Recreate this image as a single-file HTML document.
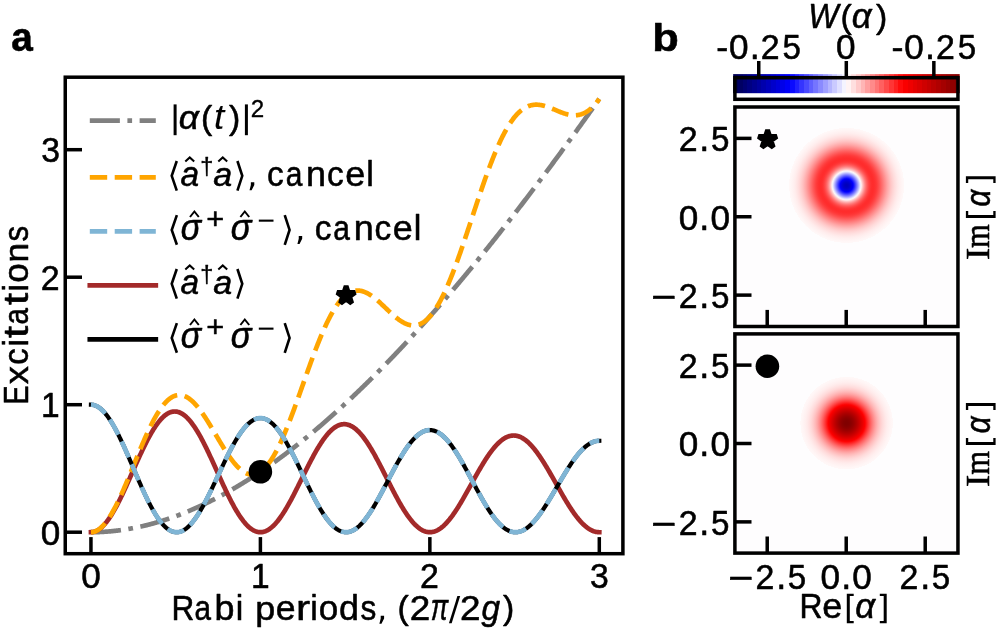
<!DOCTYPE html>
<html><head><meta charset="utf-8"><title>Figure</title><style>html,body{margin:0;padding:0;background:#fff;width:1000px;height:630px;overflow:hidden}svg{display:block}text{font-kerning:none;font-variant-ligatures:none;stroke:#000;stroke-width:0.55px;stroke-linejoin:round}</style></head><body>
<svg width="1000" height="630" viewBox="0 0 1000 630" style="will-change:transform">
<rect x="0" y="0" width="1000" height="630" fill="#fff"/>
<defs><clipPath id="ca"><rect x="65.25" y="77.2" width="557.65" height="476.5"/></clipPath></defs>
<g clip-path="url(#ca)" fill="none" stroke-linejoin="round">
<path d="M90.95 532.20 L91.51 532.20 L92.08 532.20 L92.64 532.19 L93.21 532.19 L93.77 532.18 L94.34 532.17 L94.90 532.16 L95.47 532.15 L96.03 532.14 L96.60 532.13 L97.16 532.11 L97.73 532.09 L98.29 532.07 L98.86 532.05 L99.42 532.03 L99.99 532.01 L100.55 531.98 L101.12 531.96 L101.68 531.93 L102.25 531.90 L102.81 531.87 L103.38 531.84 L103.94 531.81 L104.51 531.77 L105.07 531.73 L105.64 531.70 L106.20 531.66 L106.77 531.62 L107.33 531.57 L107.90 531.53 L108.46 531.49 L109.02 531.44 L109.59 531.39 L110.15 531.34 L110.72 531.29 L111.28 531.24 L111.85 531.19 L112.41 531.13 L112.98 531.07 L113.54 531.02 L114.11 530.96 L114.67 530.89 L115.24 530.83 L115.80 530.77 L116.37 530.70 L116.93 530.64 L117.50 530.57 L118.06 530.50 L118.63 530.43 L119.19 530.36 L119.76 530.28 L120.32 530.21 L120.89 530.13 L121.45 530.05 L122.02 529.97 L122.58 529.89 L123.15 529.81 L123.71 529.73 L124.28 529.64 L124.84 529.55 L125.40 529.47 L125.97 529.38 L126.53 529.29 L127.10 529.19 L127.66 529.10 L128.23 529.01 L128.79 528.91 L129.36 528.81 L129.92 528.71 L130.49 528.61 L131.05 528.51 L131.62 528.41 L132.18 528.30 L132.75 528.20 L133.31 528.09 L133.88 527.98 L134.44 527.87 L135.01 527.76 L135.57 527.65 L136.14 527.53 L136.70 527.42 L137.27 527.30 L137.83 527.18 L138.40 527.06 L138.96 526.94 L139.53 526.82 L140.09 526.69 L140.66 526.57 L141.22 526.44 L141.78 526.32 L142.35 526.19 L142.91 526.06 L143.48 525.92 L144.04 525.79 L144.61 525.66 L145.17 525.52 L145.74 525.38 L146.30 525.24 L146.87 525.10 L147.43 524.96 L148.00 524.82 L148.56 524.68 L149.13 524.53 L149.69 524.38 L150.26 524.24 L150.82 524.09 L151.39 523.94 L151.95 523.78 L152.52 523.63 L153.08 523.48 L153.65 523.32 L154.21 523.16 L154.78 523.00 L155.34 522.84 L155.91 522.68 L156.47 522.52 L157.04 522.36 L157.60 522.19 L158.17 522.02 L158.73 521.86 L159.29 521.69 L159.86 521.52 L160.42 521.34 L160.99 521.17 L161.55 521.00 L162.12 520.82 L162.68 520.64 L163.25 520.47 L163.81 520.29 L164.38 520.11 L164.94 519.92 L165.51 519.74 L166.07 519.56 L166.64 519.37 L167.20 519.18 L167.77 518.99 L168.33 518.80 L168.90 518.61 L169.46 518.42 L170.03 518.23 L170.59 518.03 L171.16 517.84 L171.72 517.64 L172.29 517.44 L172.85 517.24 L173.42 517.04 L173.98 516.83 L174.55 516.63 L175.11 516.43 L175.68 516.22 L176.24 516.01 L176.80 515.80 L177.37 515.59 L177.93 515.38 L178.50 515.17 L179.06 514.95 L179.63 514.74 L180.19 514.52 L180.76 514.31 L181.32 514.09 L181.89 513.87 L182.45 513.64 L183.02 513.42 L183.58 513.20 L184.15 512.97 L184.71 512.75 L185.28 512.52 L185.84 512.29 L186.41 512.06 L186.97 511.83 L187.54 511.60 L188.10 511.36 L188.67 511.13 L189.23 510.89 L189.80 510.65 L190.36 510.41 L190.93 510.17 L191.49 509.93 L192.06 509.69 L192.62 509.45 L193.18 509.20 L193.75 508.96 L194.31 508.71 L194.88 508.46 L195.44 508.21 L196.01 507.96 L196.57 507.71 L197.14 507.45 L197.70 507.20 L198.27 506.94 L198.83 506.69 L199.40 506.43 L199.96 506.17 L200.53 505.91 L201.09 505.65 L201.66 505.39 L202.22 505.12 L202.79 504.86 L203.35 504.59 L203.92 504.32 L204.48 504.05 L205.05 503.78 L205.61 503.51 L206.18 503.24 L206.74 502.97 L207.31 502.69 L207.87 502.42 L208.44 502.14 L209.00 501.86 L209.56 501.58 L210.13 501.30 L210.69 501.02 L211.26 500.73 L211.82 500.45 L212.39 500.17 L212.95 499.88 L213.52 499.59 L214.08 499.30 L214.65 499.01 L215.21 498.72 L215.78 498.43 L216.34 498.14 L216.91 497.84 L217.47 497.55 L218.04 497.25 L218.60 496.95 L219.17 496.65 L219.73 496.35 L220.30 496.05 L220.86 495.75 L221.43 495.44 L221.99 495.14 L222.56 494.83 L223.12 494.52 L223.69 494.22 L224.25 493.91 L224.82 493.60 L225.38 493.28 L225.95 492.97 L226.51 492.66 L227.07 492.34 L227.64 492.03 L228.20 491.71 L228.77 491.39 L229.33 491.07 L229.90 490.75 L230.46 490.43 L231.03 490.11 L231.59 489.78 L232.16 489.46 L232.72 489.13 L233.29 488.80 L233.85 488.47 L234.42 488.14 L234.98 487.81 L235.55 487.48 L236.11 487.15 L236.68 486.81 L237.24 486.48 L237.81 486.14 L238.37 485.80 L238.94 485.47 L239.50 485.13 L240.07 484.79 L240.63 484.44 L241.20 484.10 L241.76 483.76 L242.33 483.41 L242.89 483.07 L243.45 482.72 L244.02 482.37 L244.58 482.02 L245.15 481.67 L245.71 481.32 L246.28 480.97 L246.84 480.61 L247.41 480.26 L247.97 479.90 L248.54 479.54 L249.10 479.19 L249.67 478.83 L250.23 478.47 L250.80 478.11 L251.36 477.74 L251.93 477.38 L252.49 477.02 L253.06 476.65 L253.62 476.28 L254.19 475.92 L254.75 475.55 L255.32 475.18 L255.88 474.81 L256.45 474.43 L257.01 474.06 L257.58 473.69 L258.14 473.31 L258.71 472.94 L259.27 472.56 L259.84 472.18 L260.40 471.80 L260.96 471.42 L261.53 471.04 L262.09 470.66 L262.66 470.27 L263.22 469.89 L263.79 469.50 L264.35 469.12 L264.92 468.73 L265.48 468.34 L266.05 467.95 L266.61 467.56 L267.18 467.17 L267.74 466.77 L268.31 466.38 L268.87 465.99 L269.44 465.59 L270.00 465.19 L270.57 464.80 L271.13 464.40 L271.70 464.00 L272.26 463.60 L272.83 463.19 L273.39 462.79 L273.96 462.39 L274.52 461.98 L275.09 461.58 L275.65 461.17 L276.22 460.76 L276.78 460.35 L277.35 459.94 L277.91 459.53 L278.47 459.12 L279.04 458.70 L279.60 458.29 L280.17 457.88 L280.73 457.46 L281.30 457.04 L281.86 456.62 L282.43 456.20 L282.99 455.78 L283.56 455.36 L284.12 454.94 L284.69 454.52 L285.25 454.09 L285.82 453.67 L286.38 453.24 L286.95 452.82 L287.51 452.39 L288.08 451.96 L288.64 451.53 L289.21 451.10 L289.77 450.67 L290.34 450.23 L290.90 449.80 L291.47 449.36 L292.03 448.93 L292.60 448.49 L293.16 448.05 L293.73 447.62 L294.29 447.18 L294.85 446.73 L295.42 446.29 L295.98 445.85 L296.55 445.41 L297.11 444.96 L297.68 444.52 L298.24 444.07 L298.81 443.62 L299.37 443.17 L299.94 442.72 L300.50 442.27 L301.07 441.82 L301.63 441.37 L302.20 440.92 L302.76 440.46 L303.33 440.01 L303.89 439.55 L304.46 439.10 L305.02 438.64 L305.59 438.18 L306.15 437.72 L306.72 437.26 L307.28 436.80 L307.85 436.33 L308.41 435.87 L308.98 435.41 L309.54 434.94 L310.11 434.47 L310.67 434.01 L311.24 433.54 L311.80 433.07 L312.36 432.60 L312.93 432.13 L313.49 431.66 L314.06 431.18 L314.62 430.71 L315.19 430.24 L315.75 429.76 L316.32 429.28 L316.88 428.81 L317.45 428.33 L318.01 427.85 L318.58 427.37 L319.14 426.89 L319.71 426.41 L320.27 425.92 L320.84 425.44 L321.40 424.95 L321.97 424.47 L322.53 423.98 L323.10 423.49 L323.66 423.01 L324.23 422.52 L324.79 422.03 L325.36 421.54 L325.92 421.04 L326.49 420.55 L327.05 420.06 L327.62 419.56 L328.18 419.07 L328.74 418.57 L329.31 418.07 L329.87 417.58 L330.44 417.08 L331.00 416.58 L331.57 416.08 L332.13 415.57 L332.70 415.07 L333.26 414.57 L333.83 414.06 L334.39 413.56 L334.96 413.05 L335.52 412.54 L336.09 412.04 L336.65 411.53 L337.22 411.02 L337.78 410.51 L338.35 410.00 L338.91 409.48 L339.48 408.97 L340.04 408.46 L340.61 407.94 L341.17 407.43 L341.74 406.91 L342.30 406.39 L342.87 405.87 L343.43 405.35 L344.00 404.83 L344.56 404.31 L345.12 403.79 L345.69 403.27 L346.25 402.75 L346.82 402.22 L347.38 401.70 L347.95 401.17 L348.51 400.64 L349.08 400.12 L349.64 399.59 L350.21 399.06 L350.77 398.53 L351.34 398.00 L351.90 397.47 L352.47 396.93 L353.03 396.40 L353.60 395.86 L354.16 395.33 L354.73 394.79 L355.29 394.26 L355.86 393.72 L356.42 393.18 L356.99 392.64 L357.55 392.10 L358.12 391.56 L358.68 391.02 L359.25 390.47 L359.81 389.93 L360.38 389.39 L360.94 388.84 L361.51 388.29 L362.07 387.75 L362.63 387.20 L363.20 386.65 L363.76 386.10 L364.33 385.55 L364.89 385.00 L365.46 384.45 L366.02 383.90 L366.59 383.34 L367.15 382.79 L367.72 382.23 L368.28 381.68 L368.85 381.12 L369.41 380.56 L369.98 380.01 L370.54 379.45 L371.11 378.89 L371.67 378.33 L372.24 377.77 L372.80 377.20 L373.37 376.64 L373.93 376.08 L374.50 375.51 L375.06 374.95 L375.63 374.38 L376.19 373.81 L376.76 373.24 L377.32 372.68 L377.89 372.11 L378.45 371.54 L379.01 370.97 L379.58 370.39 L380.14 369.82 L380.71 369.25 L381.27 368.67 L381.84 368.10 L382.40 367.52 L382.97 366.95 L383.53 366.37 L384.10 365.79 L384.66 365.21 L385.23 364.63 L385.79 364.05 L386.36 363.47 L386.92 362.89 L387.49 362.31 L388.05 361.72 L388.62 361.14 L389.18 360.56 L389.75 359.97 L390.31 359.38 L390.88 358.80 L391.44 358.21 L392.01 357.62 L392.57 357.03 L393.14 356.44 L393.70 355.85 L394.27 355.26 L394.83 354.66 L395.40 354.07 L395.96 353.48 L396.52 352.88 L397.09 352.29 L397.65 351.69 L398.22 351.09 L398.78 350.50 L399.35 349.90 L399.91 349.30 L400.48 348.70 L401.04 348.10 L401.61 347.50 L402.17 346.89 L402.74 346.29 L403.30 345.69 L403.87 345.08 L404.43 344.48 L405.00 343.87 L405.56 343.27 L406.13 342.66 L406.69 342.05 L407.26 341.44 L407.82 340.83 L408.39 340.22 L408.95 339.61 L409.52 339.00 L410.08 338.39 L410.65 337.77 L411.21 337.16 L411.78 336.54 L412.34 335.93 L412.90 335.31 L413.47 334.70 L414.03 334.08 L414.60 333.46 L415.16 332.84 L415.73 332.22 L416.29 331.60 L416.86 330.98 L417.42 330.36 L417.99 329.74 L418.55 329.11 L419.12 328.49 L419.68 327.86 L420.25 327.24 L420.81 326.61 L421.38 325.99 L421.94 325.36 L422.51 324.73 L423.07 324.10 L423.64 323.47 L424.20 322.84 L424.77 322.21 L425.33 321.58 L425.90 320.95 L426.46 320.31 L427.03 319.68 L427.59 319.05 L428.16 318.41 L428.72 317.78 L429.29 317.14 L429.85 316.50 L430.41 315.86 L430.98 315.23 L431.54 314.59 L432.11 313.95 L432.67 313.31 L433.24 312.67 L433.80 312.02 L434.37 311.38 L434.93 310.74 L435.50 310.09 L436.06 309.45 L436.63 308.80 L437.19 308.16 L437.76 307.51 L438.32 306.86 L438.89 306.22 L439.45 305.57 L440.02 304.92 L440.58 304.27 L441.15 303.62 L441.71 302.97 L442.28 302.31 L442.84 301.66 L443.41 301.01 L443.97 300.35 L444.54 299.70 L445.10 299.04 L445.67 298.39 L446.23 297.73 L446.79 297.07 L447.36 296.42 L447.92 295.76 L448.49 295.10 L449.05 294.44 L449.62 293.78 L450.18 293.12 L450.75 292.46 L451.31 291.79 L451.88 291.13 L452.44 290.47 L453.01 289.80 L453.57 289.14 L454.14 288.47 L454.70 287.81 L455.27 287.14 L455.83 286.47 L456.40 285.80 L456.96 285.13 L457.53 284.46 L458.09 283.79 L458.66 283.12 L459.22 282.45 L459.79 281.78 L460.35 281.11 L460.92 280.43 L461.48 279.76 L462.05 279.09 L462.61 278.41 L463.18 277.73 L463.74 277.06 L464.30 276.38 L464.87 275.70 L465.43 275.03 L466.00 274.35 L466.56 273.67 L467.13 272.99 L467.69 272.31 L468.26 271.62 L468.82 270.94 L469.39 270.26 L469.95 269.58 L470.52 268.89 L471.08 268.21 L471.65 267.52 L472.21 266.84 L472.78 266.15 L473.34 265.46 L473.91 264.78 L474.47 264.09 L475.04 263.40 L475.60 262.71 L476.17 262.02 L476.73 261.33 L477.30 260.64 L477.86 259.95 L478.43 259.26 L478.99 258.56 L479.56 257.87 L480.12 257.18 L480.69 256.48 L481.25 255.79 L481.81 255.09 L482.38 254.39 L482.94 253.70 L483.51 253.00 L484.07 252.30 L484.64 251.60 L485.20 250.90 L485.77 250.20 L486.33 249.50 L486.90 248.80 L487.46 248.10 L488.03 247.40 L488.59 246.69 L489.16 245.99 L489.72 245.29 L490.29 244.58 L490.85 243.88 L491.42 243.17 L491.98 242.46 L492.55 241.76 L493.11 241.05 L493.68 240.34 L494.24 239.63 L494.81 238.92 L495.37 238.21 L495.94 237.50 L496.50 236.79 L497.07 236.08 L497.63 235.37 L498.19 234.66 L498.76 233.94 L499.32 233.23 L499.89 232.51 L500.45 231.80 L501.02 231.08 L501.58 230.37 L502.15 229.65 L502.71 228.93 L503.28 228.22 L503.84 227.50 L504.41 226.78 L504.97 226.06 L505.54 225.34 L506.10 224.62 L506.67 223.90 L507.23 223.18 L507.80 222.46 L508.36 221.73 L508.93 221.01 L509.49 220.29 L510.06 219.56 L510.62 218.84 L511.19 218.11 L511.75 217.39 L512.32 216.66 L512.88 215.93 L513.45 215.21 L514.01 214.48 L514.58 213.75 L515.14 213.02 L515.70 212.29 L516.27 211.56 L516.83 210.83 L517.40 210.10 L517.96 209.37 L518.53 208.63 L519.09 207.90 L519.66 207.17 L520.22 206.43 L520.79 205.70 L521.35 204.96 L521.92 204.23 L522.48 203.49 L523.05 202.76 L523.61 202.02 L524.18 201.28 L524.74 200.54 L525.31 199.81 L525.87 199.07 L526.44 198.33 L527.00 197.59 L527.57 196.85 L528.13 196.10 L528.70 195.36 L529.26 194.62 L529.83 193.88 L530.39 193.13 L530.96 192.39 L531.52 191.65 L532.08 190.90 L532.65 190.16 L533.21 189.41 L533.78 188.66 L534.34 187.92 L534.91 187.17 L535.47 186.42 L536.04 185.67 L536.60 184.93 L537.17 184.18 L537.73 183.43 L538.30 182.68 L538.86 181.93 L539.43 181.17 L539.99 180.42 L540.56 179.67 L541.12 178.92 L541.69 178.16 L542.25 177.41 L542.82 176.66 L543.38 175.90 L543.95 175.15 L544.51 174.39 L545.08 173.63 L545.64 172.88 L546.21 172.12 L546.77 171.36 L547.34 170.61 L547.90 169.85 L548.47 169.09 L549.03 168.33 L549.59 167.57 L550.16 166.81 L550.72 166.05 L551.29 165.28 L551.85 164.52 L552.42 163.76 L552.98 163.00 L553.55 162.23 L554.11 161.47 L554.68 160.71 L555.24 159.94 L555.81 159.18 L556.37 158.41 L556.94 157.64 L557.50 156.88 L558.07 156.11 L558.63 155.34 L559.20 154.57 L559.76 153.81 L560.33 153.04 L560.89 152.27 L561.46 151.50 L562.02 150.73 L562.59 149.96 L563.15 149.18 L563.72 148.41 L564.28 147.64 L564.85 146.87 L565.41 146.10 L565.97 145.32 L566.54 144.55 L567.10 143.77 L567.67 143.00 L568.23 142.22 L568.80 141.45 L569.36 140.67 L569.93 139.89 L570.49 139.12 L571.06 138.34 L571.62 137.56 L572.19 136.78 L572.75 136.00 L573.32 135.22 L573.88 134.44 L574.45 133.66 L575.01 132.88 L575.58 132.10 L576.14 131.32 L576.71 130.54 L577.27 129.76 L577.84 128.97 L578.40 128.19 L578.97 127.41 L579.53 126.62 L580.10 125.84 L580.66 125.05 L581.23 124.27 L581.79 123.48 L582.36 122.69 L582.92 121.91 L583.48 121.12 L584.05 120.33 L584.61 119.54 L585.18 118.76 L585.74 117.97 L586.31 117.18 L586.87 116.39 L587.44 115.60 L588.00 114.81 L588.57 114.02 L589.13 113.22 L589.70 112.43 L590.26 111.64 L590.83 110.85 L591.39 110.05 L591.96 109.26 L592.52 108.47 L593.09 107.67 L593.65 106.88 L594.22 106.08 L594.78 105.29 L595.35 104.49 L595.91 103.69 L596.48 102.90 L597.04 102.10 L597.61 101.30 L598.17 100.50 L598.74 99.71 L599.30 98.91" stroke="#808080" stroke-width="4.7" stroke-dasharray="30.08 7.52 4.70 7.52" stroke-linecap="butt"/>
<path d="M90.95 532.20 L91.51 532.19 L92.08 532.14 L92.64 532.07 L93.21 531.98 L93.77 531.85 L94.34 531.70 L94.90 531.52 L95.47 531.31 L96.03 531.07 L96.60 530.81 L97.16 530.52 L97.73 530.21 L98.29 529.86 L98.86 529.49 L99.42 529.10 L99.99 528.67 L100.55 528.23 L101.12 527.75 L101.68 527.25 L102.25 526.73 L102.81 526.18 L103.38 525.60 L103.94 525.00 L104.51 524.38 L105.07 523.74 L105.64 523.06 L106.20 522.37 L106.77 521.66 L107.33 520.92 L107.90 520.16 L108.46 519.37 L109.02 518.57 L109.59 517.74 L110.15 516.90 L110.72 516.03 L111.28 515.14 L111.85 514.24 L112.41 513.31 L112.98 512.37 L113.54 511.41 L114.11 510.43 L114.67 509.43 L115.24 508.42 L115.80 507.39 L116.37 506.35 L116.93 505.29 L117.50 504.21 L118.06 503.12 L118.63 502.02 L119.19 500.90 L119.76 499.77 L120.32 498.63 L120.89 497.47 L121.45 496.31 L122.02 495.13 L122.58 493.94 L123.15 492.75 L123.71 491.54 L124.28 490.33 L124.84 489.10 L125.40 487.87 L125.97 486.64 L126.53 485.39 L127.10 484.14 L127.66 482.89 L128.23 481.63 L128.79 480.37 L129.36 479.10 L129.92 477.83 L130.49 476.56 L131.05 475.28 L131.62 474.00 L132.18 472.73 L132.75 471.45 L133.31 470.17 L133.88 468.90 L134.44 467.62 L135.01 466.35 L135.57 465.08 L136.14 463.82 L136.70 462.56 L137.27 461.30 L137.83 460.04 L138.40 458.80 L138.96 457.56 L139.53 456.32 L140.09 455.09 L140.66 453.87 L141.22 452.66 L141.78 451.46 L142.35 450.26 L142.91 449.08 L143.48 447.90 L144.04 446.74 L144.61 445.59 L145.17 444.45 L145.74 443.32 L146.30 442.21 L146.87 441.11 L147.43 440.02 L148.00 438.94 L148.56 437.89 L149.13 436.84 L149.69 435.81 L150.26 434.80 L150.82 433.81 L151.39 432.83 L151.95 431.87 L152.52 430.93 L153.08 430.00 L153.65 429.10 L154.21 428.21 L154.78 427.34 L155.34 426.50 L155.91 425.67 L156.47 424.86 L157.04 424.08 L157.60 423.31 L158.17 422.57 L158.73 421.85 L159.29 421.15 L159.86 420.47 L160.42 419.82 L160.99 419.19 L161.55 418.58 L162.12 418.00 L162.68 417.44 L163.25 416.90 L163.81 416.39 L164.38 415.90 L164.94 415.44 L165.51 415.00 L166.07 414.59 L166.64 414.20 L167.20 413.84 L167.77 413.50 L168.33 413.19 L168.90 412.91 L169.46 412.65 L170.03 412.42 L170.59 412.21 L171.16 412.03 L171.72 411.88 L172.29 411.75 L172.85 411.65 L173.42 411.58 L173.98 411.53 L174.55 411.51 L175.11 411.51 L175.68 411.54 L176.24 411.60 L176.80 411.68 L177.37 411.79 L177.93 411.93 L178.50 412.09 L179.06 412.28 L179.63 412.50 L180.19 412.74 L180.76 413.01 L181.32 413.30 L181.89 413.62 L182.45 413.96 L183.02 414.33 L183.58 414.73 L184.15 415.15 L184.71 415.59 L185.28 416.06 L185.84 416.55 L186.41 417.07 L186.97 417.61 L187.54 418.17 L188.10 418.76 L188.67 419.37 L189.23 420.00 L189.80 420.66 L190.36 421.34 L190.93 422.04 L191.49 422.76 L192.06 423.50 L192.62 424.27 L193.18 425.05 L193.75 425.86 L194.31 426.68 L194.88 427.53 L195.44 428.39 L196.01 429.27 L196.57 430.17 L197.14 431.09 L197.70 432.03 L198.27 432.98 L198.83 433.95 L199.40 434.94 L199.96 435.94 L200.53 436.96 L201.09 437.99 L201.66 439.04 L202.22 440.10 L202.79 441.17 L203.35 442.26 L203.92 443.36 L204.48 444.48 L205.05 445.60 L205.61 446.74 L206.18 447.88 L206.74 449.04 L207.31 450.21 L207.87 451.38 L208.44 452.57 L209.00 453.76 L209.56 454.96 L210.13 456.17 L210.69 457.38 L211.26 458.60 L211.82 459.83 L212.39 461.06 L212.95 462.29 L213.52 463.53 L214.08 464.77 L214.65 466.02 L215.21 467.27 L215.78 468.52 L216.34 469.77 L216.91 471.02 L217.47 472.27 L218.04 473.52 L218.60 474.77 L219.17 476.02 L219.73 477.27 L220.30 478.51 L220.86 479.75 L221.43 480.99 L221.99 482.22 L222.56 483.45 L223.12 484.67 L223.69 485.89 L224.25 487.10 L224.82 488.31 L225.38 489.51 L225.95 490.70 L226.51 491.88 L227.07 493.05 L227.64 494.21 L228.20 495.37 L228.77 496.51 L229.33 497.64 L229.90 498.77 L230.46 499.88 L231.03 500.97 L231.59 502.06 L232.16 503.13 L232.72 504.19 L233.29 505.23 L233.85 506.26 L234.42 507.28 L234.98 508.28 L235.55 509.26 L236.11 510.23 L236.68 511.18 L237.24 512.12 L237.81 513.03 L238.37 513.93 L238.94 514.82 L239.50 515.68 L240.07 516.52 L240.63 517.35 L241.20 518.16 L241.76 518.94 L242.33 519.71 L242.89 520.45 L243.45 521.18 L244.02 521.88 L244.58 522.56 L245.15 523.23 L245.71 523.87 L246.28 524.48 L246.84 525.08 L247.41 525.65 L247.97 526.20 L248.54 526.73 L249.10 527.23 L249.67 527.71 L250.23 528.17 L250.80 528.60 L251.36 529.01 L251.93 529.39 L252.49 529.75 L253.06 530.09 L253.62 530.40 L254.19 530.69 L254.75 530.95 L255.32 531.19 L255.88 531.40 L256.45 531.59 L257.01 531.75 L257.58 531.89 L258.14 532.00 L258.71 532.09 L259.27 532.15 L259.84 532.19 L260.40 532.20 L260.96 532.19 L261.53 532.15 L262.09 532.09 L262.66 532.00 L263.22 531.89 L263.79 531.75 L264.35 531.59 L264.92 531.40 L265.48 531.19 L266.05 530.96 L266.61 530.70 L267.18 530.41 L267.74 530.11 L268.31 529.78 L268.87 529.42 L269.44 529.04 L270.00 528.64 L270.57 528.22 L271.13 527.77 L271.70 527.30 L272.26 526.81 L272.83 526.30 L273.39 525.76 L273.96 525.20 L274.52 524.62 L275.09 524.02 L275.65 523.40 L276.22 522.76 L276.78 522.10 L277.35 521.42 L277.91 520.72 L278.47 520.00 L279.04 519.26 L279.60 518.50 L280.17 517.73 L280.73 516.94 L281.30 516.13 L281.86 515.30 L282.43 514.45 L282.99 513.59 L283.56 512.72 L284.12 511.83 L284.69 510.92 L285.25 510.00 L285.82 509.06 L286.38 508.11 L286.95 507.15 L287.51 506.17 L288.08 505.19 L288.64 504.19 L289.21 503.17 L289.77 502.15 L290.34 501.12 L290.90 500.07 L291.47 499.02 L292.03 497.96 L292.60 496.89 L293.16 495.81 L293.73 494.72 L294.29 493.63 L294.85 492.53 L295.42 491.42 L295.98 490.31 L296.55 489.19 L297.11 488.07 L297.68 486.94 L298.24 485.81 L298.81 484.67 L299.37 483.54 L299.94 482.40 L300.50 481.26 L301.07 480.11 L301.63 478.97 L302.20 477.83 L302.76 476.69 L303.33 475.55 L303.89 474.41 L304.46 473.27 L305.02 472.13 L305.59 471.00 L306.15 469.87 L306.72 468.74 L307.28 467.62 L307.85 466.50 L308.41 465.39 L308.98 464.29 L309.54 463.19 L310.11 462.10 L310.67 461.01 L311.24 459.93 L311.80 458.87 L312.36 457.81 L312.93 456.76 L313.49 455.71 L314.06 454.68 L314.62 453.66 L315.19 452.65 L315.75 451.66 L316.32 450.67 L316.88 449.70 L317.45 448.74 L318.01 447.79 L318.58 446.85 L319.14 445.94 L319.71 445.03 L320.27 444.14 L320.84 443.26 L321.40 442.40 L321.97 441.56 L322.53 440.73 L323.10 439.92 L323.66 439.13 L324.23 438.35 L324.79 437.59 L325.36 436.85 L325.92 436.13 L326.49 435.43 L327.05 434.74 L327.62 434.08 L328.18 433.43 L328.74 432.81 L329.31 432.20 L329.87 431.62 L330.44 431.05 L331.00 430.51 L331.57 429.99 L332.13 429.49 L332.70 429.01 L333.26 428.55 L333.83 428.11 L334.39 427.70 L334.96 427.31 L335.52 426.94 L336.09 426.59 L336.65 426.27 L337.22 425.97 L337.78 425.69 L338.35 425.43 L338.91 425.20 L339.48 425.00 L340.04 424.81 L340.61 424.65 L341.17 424.51 L341.74 424.40 L342.30 424.31 L342.87 424.24 L343.43 424.20 L344.00 424.18 L344.56 424.18 L345.12 424.21 L345.69 424.26 L346.25 424.34 L346.82 424.44 L347.38 424.56 L347.95 424.71 L348.51 424.88 L349.08 425.07 L349.64 425.28 L350.21 425.52 L350.77 425.78 L351.34 426.07 L351.90 426.38 L352.47 426.71 L353.03 427.06 L353.60 427.44 L354.16 427.83 L354.73 428.25 L355.29 428.69 L355.86 429.16 L356.42 429.64 L356.99 430.15 L357.55 430.67 L358.12 431.22 L358.68 431.78 L359.25 432.37 L359.81 432.98 L360.38 433.61 L360.94 434.25 L361.51 434.92 L362.07 435.60 L362.63 436.30 L363.20 437.02 L363.76 437.76 L364.33 438.52 L364.89 439.29 L365.46 440.08 L366.02 440.89 L366.59 441.71 L367.15 442.55 L367.72 443.40 L368.28 444.27 L368.85 445.15 L369.41 446.05 L369.98 446.96 L370.54 447.88 L371.11 448.82 L371.67 449.77 L372.24 450.73 L372.80 451.71 L373.37 452.69 L373.93 453.69 L374.50 454.69 L375.06 455.71 L375.63 456.74 L376.19 457.77 L376.76 458.82 L377.32 459.87 L377.89 460.93 L378.45 462.00 L379.01 463.07 L379.58 464.15 L380.14 465.24 L380.71 466.33 L381.27 467.43 L381.84 468.53 L382.40 469.63 L382.97 470.74 L383.53 471.85 L384.10 472.97 L384.66 474.09 L385.23 475.20 L385.79 476.32 L386.36 477.44 L386.92 478.56 L387.49 479.68 L388.05 480.80 L388.62 481.92 L389.18 483.03 L389.75 484.15 L390.31 485.26 L390.88 486.37 L391.44 487.47 L392.01 488.57 L392.57 489.66 L393.14 490.75 L393.70 491.84 L394.27 492.92 L394.83 493.99 L395.40 495.05 L395.96 496.11 L396.52 497.16 L397.09 498.20 L397.65 499.24 L398.22 500.26 L398.78 501.27 L399.35 502.28 L399.91 503.27 L400.48 504.25 L401.04 505.22 L401.61 506.18 L402.17 507.13 L402.74 508.06 L403.30 508.99 L403.87 509.90 L404.43 510.79 L405.00 511.67 L405.56 512.54 L406.13 513.39 L406.69 514.23 L407.26 515.05 L407.82 515.85 L408.39 516.64 L408.95 517.41 L409.52 518.17 L410.08 518.91 L410.65 519.63 L411.21 520.33 L411.78 521.02 L412.34 521.69 L412.90 522.34 L413.47 522.97 L414.03 523.58 L414.60 524.17 L415.16 524.74 L415.73 525.29 L416.29 525.83 L416.86 526.34 L417.42 526.83 L417.99 527.30 L418.55 527.75 L419.12 528.18 L419.68 528.59 L420.25 528.98 L420.81 529.34 L421.38 529.69 L421.94 530.01 L422.51 530.31 L423.07 530.59 L423.64 530.84 L424.20 531.08 L424.77 531.29 L425.33 531.48 L425.90 531.65 L426.46 531.80 L427.03 531.92 L427.59 532.02 L428.16 532.10 L428.72 532.16 L429.29 532.19 L429.85 532.20 L430.41 532.19 L430.98 532.16 L431.54 532.10 L432.11 532.02 L432.67 531.92 L433.24 531.80 L433.80 531.65 L434.37 531.49 L434.93 531.30 L435.50 531.09 L436.06 530.86 L436.63 530.60 L437.19 530.33 L437.76 530.03 L438.32 529.71 L438.89 529.38 L439.45 529.02 L440.02 528.64 L440.58 528.24 L441.15 527.82 L441.71 527.38 L442.28 526.92 L442.84 526.44 L443.41 525.94 L443.97 525.42 L444.54 524.88 L445.10 524.33 L445.67 523.75 L446.23 523.16 L446.79 522.55 L447.36 521.92 L447.92 521.28 L448.49 520.62 L449.05 519.94 L449.62 519.25 L450.18 518.54 L450.75 517.81 L451.31 517.07 L451.88 516.32 L452.44 515.55 L453.01 514.76 L453.57 513.96 L454.14 513.15 L454.70 512.33 L455.27 511.49 L455.83 510.64 L456.40 509.78 L456.96 508.91 L457.53 508.02 L458.09 507.13 L458.66 506.22 L459.22 505.31 L459.79 504.38 L460.35 503.45 L460.92 502.51 L461.48 501.55 L462.05 500.60 L462.61 499.63 L463.18 498.66 L463.74 497.68 L464.30 496.69 L464.87 495.70 L465.43 494.71 L466.00 493.71 L466.56 492.70 L467.13 491.69 L467.69 490.68 L468.26 489.66 L468.82 488.65 L469.39 487.63 L469.95 486.61 L470.52 485.58 L471.08 484.56 L471.65 483.54 L472.21 482.52 L472.78 481.49 L473.34 480.47 L473.91 479.45 L474.47 478.44 L475.04 477.42 L475.60 476.41 L476.17 475.41 L476.73 474.40 L477.30 473.40 L477.86 472.41 L478.43 471.42 L478.99 470.43 L479.56 469.46 L480.12 468.49 L480.69 467.52 L481.25 466.57 L481.81 465.62 L482.38 464.68 L482.94 463.75 L483.51 462.82 L484.07 461.91 L484.64 461.01 L485.20 460.11 L485.77 459.23 L486.33 458.36 L486.90 457.50 L487.46 456.65 L488.03 455.82 L488.59 454.99 L489.16 454.18 L489.72 453.39 L490.29 452.60 L490.85 451.83 L491.42 451.08 L491.98 450.34 L492.55 449.61 L493.11 448.90 L493.68 448.21 L494.24 447.53 L494.81 446.86 L495.37 446.22 L495.94 445.59 L496.50 444.98 L497.07 444.38 L497.63 443.80 L498.19 443.24 L498.76 442.70 L499.32 442.18 L499.89 441.67 L500.45 441.19 L501.02 440.72 L501.58 440.27 L502.15 439.84 L502.71 439.43 L503.28 439.04 L503.84 438.67 L504.41 438.32 L504.97 437.99 L505.54 437.68 L506.10 437.39 L506.67 437.12 L507.23 436.87 L507.80 436.64 L508.36 436.44 L508.93 436.25 L509.49 436.09 L510.06 435.94 L510.62 435.82 L511.19 435.72 L511.75 435.64 L512.32 435.58 L512.88 435.54 L513.45 435.52 L514.01 435.52 L514.58 435.55 L515.14 435.60 L515.70 435.66 L516.27 435.75 L516.83 435.86 L517.40 435.99 L517.96 436.14 L518.53 436.32 L519.09 436.51 L519.66 436.72 L520.22 436.96 L520.79 437.21 L521.35 437.49 L521.92 437.78 L522.48 438.10 L523.05 438.44 L523.61 438.79 L524.18 439.17 L524.74 439.56 L525.31 439.98 L525.87 440.41 L526.44 440.86 L527.00 441.33 L527.57 441.82 L528.13 442.33 L528.70 442.85 L529.26 443.40 L529.83 443.96 L530.39 444.54 L530.96 445.13 L531.52 445.74 L532.08 446.37 L532.65 447.02 L533.21 447.68 L533.78 448.35 L534.34 449.05 L534.91 449.75 L535.47 450.47 L536.04 451.21 L536.60 451.96 L537.17 452.72 L537.73 453.50 L538.30 454.29 L538.86 455.09 L539.43 455.91 L539.99 456.74 L540.56 457.58 L541.12 458.43 L541.69 459.29 L542.25 460.16 L542.82 461.04 L543.38 461.93 L543.95 462.83 L544.51 463.74 L545.08 464.66 L545.64 465.59 L546.21 466.52 L546.77 467.46 L547.34 468.41 L547.90 469.37 L548.47 470.33 L549.03 471.30 L549.59 472.27 L550.16 473.25 L550.72 474.23 L551.29 475.21 L551.85 476.20 L552.42 477.20 L552.98 478.19 L553.55 479.19 L554.11 480.19 L554.68 481.19 L555.24 482.19 L555.81 483.19 L556.37 484.19 L556.94 485.20 L557.50 486.20 L558.07 487.20 L558.63 488.20 L559.20 489.19 L559.76 490.19 L560.33 491.18 L560.89 492.17 L561.46 493.15 L562.02 494.13 L562.59 495.11 L563.15 496.08 L563.72 497.04 L564.28 498.00 L564.85 498.95 L565.41 499.90 L565.97 500.84 L566.54 501.77 L567.10 502.70 L567.67 503.61 L568.23 504.52 L568.80 505.42 L569.36 506.31 L569.93 507.19 L570.49 508.06 L571.06 508.91 L571.62 509.76 L572.19 510.60 L572.75 511.42 L573.32 512.24 L573.88 513.04 L574.45 513.83 L575.01 514.60 L575.58 515.36 L576.14 516.11 L576.71 516.85 L577.27 517.57 L577.84 518.27 L578.40 518.97 L578.97 519.64 L579.53 520.30 L580.10 520.95 L580.66 521.58 L581.23 522.19 L581.79 522.79 L582.36 523.37 L582.92 523.94 L583.48 524.48 L584.05 525.01 L584.61 525.52 L585.18 526.02 L585.74 526.49 L586.31 526.95 L586.87 527.39 L587.44 527.81 L588.00 528.22 L588.57 528.60 L589.13 528.97 L589.70 529.31 L590.26 529.64 L590.83 529.95 L591.39 530.24 L591.96 530.51 L592.52 530.76 L593.09 530.99 L593.65 531.20 L594.22 531.39 L594.78 531.56 L595.35 531.71 L595.91 531.84 L596.48 531.95 L597.04 532.04 L597.61 532.11 L598.17 532.16 L598.74 532.19 L599.30 532.20" stroke="#A32A2A" stroke-width="4.7" stroke-linecap="square"/>
<path d="M90.95 532.20 L91.51 532.19 L92.08 532.14 L92.64 532.07 L93.21 531.96 L93.77 531.83 L94.34 531.67 L94.90 531.48 L95.47 531.26 L96.03 531.01 L96.60 530.74 L97.16 530.43 L97.73 530.10 L98.29 529.74 L98.86 529.35 L99.42 528.93 L99.99 528.48 L100.55 528.01 L101.12 527.51 L101.68 526.98 L102.25 526.43 L102.81 525.85 L103.38 525.24 L103.94 524.61 L104.51 523.95 L105.07 523.27 L105.64 522.56 L106.20 521.83 L106.77 521.07 L107.33 520.29 L107.90 519.49 L108.46 518.66 L109.02 517.81 L109.59 516.93 L110.15 516.04 L110.72 515.12 L111.28 514.18 L111.85 513.22 L112.41 512.24 L112.98 511.25 L113.54 510.23 L114.11 509.19 L114.67 508.13 L115.24 507.05 L115.80 505.96 L116.37 504.85 L116.93 503.72 L117.50 502.58 L118.06 501.42 L118.63 500.24 L119.19 499.06 L119.76 497.85 L120.32 496.63 L120.89 495.40 L121.45 494.16 L122.02 492.90 L122.58 491.63 L123.15 490.36 L123.71 489.07 L124.28 487.77 L124.84 486.46 L125.40 485.14 L125.97 483.81 L126.53 482.48 L127.10 481.14 L127.66 479.79 L128.23 478.44 L128.79 477.08 L129.36 475.71 L129.92 474.34 L130.49 472.97 L131.05 471.59 L131.62 470.21 L132.18 468.83 L132.75 467.45 L133.31 466.06 L133.88 464.68 L134.44 463.30 L135.01 461.91 L135.57 460.53 L136.14 459.15 L136.70 457.77 L137.27 456.40 L137.83 455.03 L138.40 453.66 L138.96 452.30 L139.53 450.94 L140.09 449.59 L140.66 448.24 L141.22 446.90 L141.78 445.57 L142.35 444.25 L142.91 442.93 L143.48 441.63 L144.04 440.33 L144.61 439.04 L145.17 437.77 L145.74 436.50 L146.30 435.25 L146.87 434.01 L147.43 432.78 L148.00 431.56 L148.56 430.36 L149.13 429.17 L149.69 428.00 L150.26 426.84 L150.82 425.69 L151.39 424.57 L151.95 423.45 L152.52 422.36 L153.08 421.28 L153.65 420.22 L154.21 419.17 L154.78 418.15 L155.34 417.14 L155.91 416.15 L156.47 415.18 L157.04 414.23 L157.60 413.30 L158.17 412.39 L158.73 411.50 L159.29 410.63 L159.86 409.79 L160.42 408.96 L160.99 408.16 L161.55 407.38 L162.12 406.62 L162.68 405.88 L163.25 405.17 L163.81 404.47 L164.38 403.81 L164.94 403.16 L165.51 402.54 L166.07 401.94 L166.64 401.37 L167.20 400.82 L167.77 400.30 L168.33 399.80 L168.90 399.32 L169.46 398.87 L170.03 398.44 L170.59 398.04 L171.16 397.67 L171.72 397.32 L172.29 396.99 L172.85 396.69 L173.42 396.41 L173.98 396.16 L174.55 395.94 L175.11 395.74 L175.68 395.56 L176.24 395.41 L176.80 395.29 L177.37 395.19 L177.93 395.11 L178.50 395.06 L179.06 395.04 L179.63 395.04 L180.19 395.06 L180.76 395.11 L181.32 395.19 L181.89 395.28 L182.45 395.41 L183.02 395.55 L183.58 395.72 L184.15 395.92 L184.71 396.14 L185.28 396.38 L185.84 396.64 L186.41 396.93 L186.97 397.24 L187.54 397.57 L188.10 397.92 L188.67 398.30 L189.23 398.69 L189.80 399.11 L190.36 399.55 L190.93 400.01 L191.49 400.49 L192.06 400.99 L192.62 401.51 L193.18 402.05 L193.75 402.61 L194.31 403.19 L194.88 403.79 L195.44 404.40 L196.01 405.03 L196.57 405.68 L197.14 406.35 L197.70 407.03 L198.27 407.73 L198.83 408.44 L199.40 409.17 L199.96 409.91 L200.53 410.67 L201.09 411.44 L201.66 412.22 L202.22 413.02 L202.79 413.83 L203.35 414.65 L203.92 415.49 L204.48 416.33 L205.05 417.18 L205.61 418.05 L206.18 418.92 L206.74 419.81 L207.31 420.70 L207.87 421.60 L208.44 422.51 L209.00 423.42 L209.56 424.34 L210.13 425.27 L210.69 426.20 L211.26 427.14 L211.82 428.08 L212.39 429.02 L212.95 429.97 L213.52 430.92 L214.08 431.88 L214.65 432.83 L215.21 433.79 L215.78 434.75 L216.34 435.70 L216.91 436.66 L217.47 437.62 L218.04 438.57 L218.60 439.52 L219.17 440.47 L219.73 441.42 L220.30 442.36 L220.86 443.30 L221.43 444.23 L221.99 445.16 L222.56 446.08 L223.12 447.00 L223.69 447.91 L224.25 448.81 L224.82 449.71 L225.38 450.59 L225.95 451.47 L226.51 452.34 L227.07 453.19 L227.64 454.04 L228.20 454.88 L228.77 455.70 L229.33 456.52 L229.90 457.32 L230.46 458.10 L231.03 458.88 L231.59 459.64 L232.16 460.39 L232.72 461.12 L233.29 461.84 L233.85 462.54 L234.42 463.22 L234.98 463.89 L235.55 464.54 L236.11 465.18 L236.68 465.80 L237.24 466.40 L237.81 466.98 L238.37 467.54 L238.94 468.08 L239.50 468.61 L240.07 469.11 L240.63 469.59 L241.20 470.06 L241.76 470.50 L242.33 470.92 L242.89 471.32 L243.45 471.70 L244.02 472.05 L244.58 472.39 L245.15 472.70 L245.71 472.98 L246.28 473.25 L246.84 473.49 L247.41 473.71 L247.97 473.90 L248.54 474.07 L249.10 474.22 L249.67 474.34 L250.23 474.43 L250.80 474.50 L251.36 474.55 L251.93 474.57 L252.49 474.57 L253.06 474.54 L253.62 474.48 L254.19 474.40 L254.75 474.29 L255.32 474.16 L255.88 474.00 L256.45 473.82 L257.01 473.61 L257.58 473.37 L258.14 473.11 L258.71 472.82 L259.27 472.51 L259.84 472.17 L260.40 471.80 L260.96 471.41 L261.53 470.99 L262.09 470.54 L262.66 470.07 L263.22 469.58 L263.79 469.05 L264.35 468.51 L264.92 467.93 L265.48 467.33 L266.05 466.71 L266.61 466.06 L267.18 465.38 L267.74 464.68 L268.31 463.96 L268.87 463.21 L269.44 462.43 L270.00 461.64 L270.57 460.81 L271.13 459.97 L271.70 459.10 L272.26 458.21 L272.83 457.29 L273.39 456.35 L273.96 455.39 L274.52 454.41 L275.09 453.40 L275.65 452.37 L276.22 451.32 L276.78 450.25 L277.35 449.16 L277.91 448.05 L278.47 446.92 L279.04 445.77 L279.60 444.59 L280.17 443.40 L280.73 442.19 L281.30 440.97 L281.86 439.72 L282.43 438.46 L282.99 437.18 L283.56 435.88 L284.12 434.57 L284.69 433.24 L285.25 431.89 L285.82 430.53 L286.38 429.16 L286.95 427.77 L287.51 426.36 L288.08 424.94 L288.64 423.51 L289.21 422.07 L289.77 420.62 L290.34 419.15 L290.90 417.67 L291.47 416.19 L292.03 414.69 L292.60 413.18 L293.16 411.66 L293.73 410.14 L294.29 408.60 L294.85 407.06 L295.42 405.51 L295.98 403.96 L296.55 402.40 L297.11 400.83 L297.68 399.26 L298.24 397.68 L298.81 396.10 L299.37 394.51 L299.94 392.92 L300.50 391.33 L301.07 389.74 L301.63 388.14 L302.20 386.55 L302.76 384.95 L303.33 383.35 L303.89 381.76 L304.46 380.16 L305.02 378.57 L305.59 376.98 L306.15 375.39 L306.72 373.80 L307.28 372.22 L307.85 370.64 L308.41 369.06 L308.98 367.49 L309.54 365.93 L310.11 364.37 L310.67 362.82 L311.24 361.27 L311.80 359.74 L312.36 358.21 L312.93 356.68 L313.49 355.17 L314.06 353.67 L314.62 352.17 L315.19 350.69 L315.75 349.22 L316.32 347.75 L316.88 346.30 L317.45 344.86 L318.01 343.44 L318.58 342.02 L319.14 340.62 L319.71 339.24 L320.27 337.86 L320.84 336.50 L321.40 335.16 L321.97 333.83 L322.53 332.51 L323.10 331.22 L323.66 329.93 L324.23 328.67 L324.79 327.42 L325.36 326.19 L325.92 324.98 L326.49 323.78 L327.05 322.60 L327.62 321.44 L328.18 320.30 L328.74 319.18 L329.31 318.08 L329.87 316.99 L330.44 315.93 L331.00 314.89 L331.57 313.86 L332.13 312.86 L332.70 311.88 L333.26 310.92 L333.83 309.97 L334.39 309.06 L334.96 308.16 L335.52 307.28 L336.09 306.43 L336.65 305.60 L337.22 304.79 L337.78 304.00 L338.35 303.23 L338.91 302.49 L339.48 301.77 L340.04 301.07 L340.61 300.39 L341.17 299.74 L341.74 299.11 L342.30 298.50 L342.87 297.91 L343.43 297.35 L344.00 296.81 L344.56 296.30 L345.12 295.80 L345.69 295.33 L346.25 294.88 L346.82 294.46 L347.38 294.06 L347.95 293.68 L348.51 293.32 L349.08 292.98 L349.64 292.67 L350.21 292.38 L350.77 292.11 L351.34 291.87 L351.90 291.64 L352.47 291.44 L353.03 291.26 L353.60 291.10 L354.16 290.96 L354.73 290.85 L355.29 290.75 L355.86 290.67 L356.42 290.62 L356.99 290.59 L357.55 290.57 L358.12 290.58 L358.68 290.60 L359.25 290.65 L359.81 290.71 L360.38 290.79 L360.94 290.89 L361.51 291.01 L362.07 291.15 L362.63 291.30 L363.20 291.47 L363.76 291.66 L364.33 291.87 L364.89 292.09 L365.46 292.33 L366.02 292.58 L366.59 292.85 L367.15 293.14 L367.72 293.43 L368.28 293.75 L368.85 294.07 L369.41 294.41 L369.98 294.76 L370.54 295.13 L371.11 295.51 L371.67 295.90 L372.24 296.30 L372.80 296.71 L373.37 297.13 L373.93 297.56 L374.50 298.01 L375.06 298.46 L375.63 298.92 L376.19 299.39 L376.76 299.86 L377.32 300.35 L377.89 300.84 L378.45 301.33 L379.01 301.84 L379.58 302.35 L380.14 302.86 L380.71 303.38 L381.27 303.90 L381.84 304.43 L382.40 304.96 L382.97 305.49 L383.53 306.02 L384.10 306.56 L384.66 307.10 L385.23 307.64 L385.79 308.18 L386.36 308.71 L386.92 309.25 L387.49 309.79 L388.05 310.33 L388.62 310.86 L389.18 311.39 L389.75 311.92 L390.31 312.44 L390.88 312.96 L391.44 313.48 L392.01 313.99 L392.57 314.49 L393.14 314.99 L393.70 315.49 L394.27 315.97 L394.83 316.45 L395.40 316.93 L395.96 317.39 L396.52 317.84 L397.09 318.29 L397.65 318.73 L398.22 319.15 L398.78 319.57 L399.35 319.97 L399.91 320.37 L400.48 320.75 L401.04 321.12 L401.61 321.48 L402.17 321.82 L402.74 322.16 L403.30 322.47 L403.87 322.78 L404.43 323.07 L405.00 323.34 L405.56 323.60 L406.13 323.85 L406.69 324.08 L407.26 324.29 L407.82 324.48 L408.39 324.66 L408.95 324.82 L409.52 324.97 L410.08 325.09 L410.65 325.20 L411.21 325.29 L411.78 325.36 L412.34 325.42 L412.90 325.45 L413.47 325.46 L414.03 325.46 L414.60 325.43 L415.16 325.38 L415.73 325.31 L416.29 325.23 L416.86 325.12 L417.42 324.99 L417.99 324.84 L418.55 324.66 L419.12 324.47 L419.68 324.25 L420.25 324.02 L420.81 323.75 L421.38 323.47 L421.94 323.17 L422.51 322.84 L423.07 322.49 L423.64 322.12 L424.20 321.72 L424.77 321.30 L425.33 320.86 L425.90 320.40 L426.46 319.91 L427.03 319.40 L427.59 318.87 L428.16 318.31 L428.72 317.73 L429.29 317.13 L429.85 316.50 L430.41 315.85 L430.98 315.18 L431.54 314.49 L432.11 313.77 L432.67 313.03 L433.24 312.26 L433.80 311.48 L434.37 310.67 L434.93 309.84 L435.50 308.98 L436.06 308.10 L436.63 307.21 L437.19 306.28 L437.76 305.34 L438.32 304.38 L438.89 303.39 L439.45 302.38 L440.02 301.35 L440.58 300.30 L441.15 299.23 L441.71 298.14 L442.28 297.03 L442.84 295.90 L443.41 294.75 L443.97 293.57 L444.54 292.38 L445.10 291.17 L445.67 289.94 L446.23 288.69 L446.79 287.43 L447.36 286.14 L447.92 284.84 L448.49 283.52 L449.05 282.18 L449.62 280.83 L450.18 279.46 L450.75 278.07 L451.31 276.67 L451.88 275.25 L452.44 273.81 L453.01 272.36 L453.57 270.90 L454.14 269.42 L454.70 267.93 L455.27 266.43 L455.83 264.91 L456.40 263.38 L456.96 261.84 L457.53 260.29 L458.09 258.72 L458.66 257.14 L459.22 255.56 L459.79 253.96 L460.35 252.36 L460.92 250.74 L461.48 249.11 L462.05 247.48 L462.61 245.84 L463.18 244.19 L463.74 242.54 L464.30 240.87 L464.87 239.21 L465.43 237.53 L466.00 235.85 L466.56 234.17 L467.13 232.48 L467.69 230.78 L468.26 229.09 L468.82 227.39 L469.39 225.69 L469.95 223.98 L470.52 222.28 L471.08 220.57 L471.65 218.86 L472.21 217.15 L472.78 215.45 L473.34 213.74 L473.91 212.03 L474.47 210.33 L475.04 208.62 L475.60 206.92 L476.17 205.23 L476.73 203.53 L477.30 201.84 L477.86 200.16 L478.43 198.47 L478.99 196.80 L479.56 195.13 L480.12 193.46 L480.69 191.80 L481.25 190.15 L481.81 188.51 L482.38 186.87 L482.94 185.24 L483.51 183.62 L484.07 182.01 L484.64 180.41 L485.20 178.81 L485.77 177.23 L486.33 175.66 L486.90 174.10 L487.46 172.55 L488.03 171.01 L488.59 169.49 L489.16 167.97 L489.72 166.47 L490.29 164.98 L490.85 163.51 L491.42 162.05 L491.98 160.60 L492.55 159.17 L493.11 157.75 L493.68 156.35 L494.24 154.96 L494.81 153.59 L495.37 152.23 L495.94 150.89 L496.50 149.57 L497.07 148.26 L497.63 146.97 L498.19 145.70 L498.76 144.44 L499.32 143.21 L499.89 141.99 L500.45 140.79 L501.02 139.60 L501.58 138.44 L502.15 137.29 L502.71 136.17 L503.28 135.06 L503.84 133.97 L504.41 132.90 L504.97 131.85 L505.54 130.82 L506.10 129.81 L506.67 128.82 L507.23 127.85 L507.80 126.90 L508.36 125.97 L508.93 125.06 L509.49 124.17 L510.06 123.30 L510.62 122.46 L511.19 121.63 L511.75 120.82 L512.32 120.04 L512.88 119.27 L513.45 118.53 L514.01 117.80 L514.58 117.10 L515.14 116.42 L515.70 115.75 L516.27 115.11 L516.83 114.49 L517.40 113.89 L517.96 113.31 L518.53 112.75 L519.09 112.21 L519.66 111.69 L520.22 111.19 L520.79 110.71 L521.35 110.25 L521.92 109.81 L522.48 109.39 L523.05 108.99 L523.61 108.61 L524.18 108.25 L524.74 107.91 L525.31 107.58 L525.87 107.28 L526.44 106.99 L527.00 106.72 L527.57 106.47 L528.13 106.23 L528.70 106.02 L529.26 105.82 L529.83 105.64 L530.39 105.47 L530.96 105.32 L531.52 105.19 L532.08 105.07 L532.65 104.97 L533.21 104.89 L533.78 104.82 L534.34 104.76 L534.91 104.72 L535.47 104.70 L536.04 104.68 L536.60 104.69 L537.17 104.70 L537.73 104.73 L538.30 104.77 L538.86 104.82 L539.43 104.88 L539.99 104.96 L540.56 105.05 L541.12 105.14 L541.69 105.25 L542.25 105.37 L542.82 105.50 L543.38 105.63 L543.95 105.78 L544.51 105.93 L545.08 106.10 L545.64 106.27 L546.21 106.44 L546.77 106.63 L547.34 106.82 L547.90 107.01 L548.47 107.22 L549.03 107.42 L549.59 107.64 L550.16 107.85 L550.72 108.07 L551.29 108.30 L551.85 108.53 L552.42 108.76 L552.98 108.99 L553.55 109.22 L554.11 109.46 L554.68 109.69 L555.24 109.93 L555.81 110.17 L556.37 110.40 L556.94 110.64 L557.50 110.88 L558.07 111.11 L558.63 111.34 L559.20 111.57 L559.76 111.79 L560.33 112.02 L560.89 112.23 L561.46 112.45 L562.02 112.66 L562.59 112.86 L563.15 113.06 L563.72 113.26 L564.28 113.44 L564.85 113.62 L565.41 113.80 L565.97 113.96 L566.54 114.12 L567.10 114.27 L567.67 114.41 L568.23 114.54 L568.80 114.67 L569.36 114.78 L569.93 114.88 L570.49 114.97 L571.06 115.05 L571.62 115.12 L572.19 115.18 L572.75 115.23 L573.32 115.26 L573.88 115.28 L574.45 115.29 L575.01 115.29 L575.58 115.27 L576.14 115.23 L576.71 115.19 L577.27 115.12 L577.84 115.05 L578.40 114.96 L578.97 114.85 L579.53 114.73 L580.10 114.59 L580.66 114.43 L581.23 114.26 L581.79 114.07 L582.36 113.87 L582.92 113.64 L583.48 113.40 L584.05 113.14 L584.61 112.87 L585.18 112.57 L585.74 112.26 L586.31 111.93 L586.87 111.58 L587.44 111.21 L588.00 110.82 L588.57 110.42 L589.13 109.99 L589.70 109.55 L590.26 109.08 L590.83 108.60 L591.39 108.09 L591.96 107.57 L592.52 107.02 L593.09 106.46 L593.65 105.87 L594.22 105.27 L594.78 104.64 L595.35 104.00 L595.91 103.33 L596.48 102.65 L597.04 101.94 L597.61 101.21 L598.17 100.46 L598.74 99.70 L599.30 98.91" stroke="#FFA500" stroke-width="4.7" stroke-dasharray="17.39 7.52" stroke-linecap="butt"/>
<path d="M90.95 404.70 L91.51 404.71 L92.08 404.76 L92.64 404.83 L93.21 404.92 L93.77 405.05 L94.34 405.20 L94.90 405.38 L95.47 405.59 L96.03 405.83 L96.60 406.09 L97.16 406.38 L97.73 406.70 L98.29 407.05 L98.86 407.42 L99.42 407.82 L99.99 408.24 L100.55 408.69 L101.12 409.17 L101.68 409.67 L102.25 410.20 L102.81 410.75 L103.38 411.33 L103.94 411.94 L104.51 412.56 L105.07 413.22 L105.64 413.89 L106.20 414.59 L106.77 415.32 L107.33 416.07 L107.90 416.84 L108.46 417.63 L109.02 418.44 L109.59 419.28 L110.15 420.13 L110.72 421.01 L111.28 421.91 L111.85 422.83 L112.41 423.77 L112.98 424.72 L113.54 425.70 L114.11 426.70 L114.67 427.71 L115.24 428.74 L115.80 429.79 L116.37 430.85 L116.93 431.93 L117.50 433.03 L118.06 434.14 L118.63 435.26 L119.19 436.40 L119.76 437.56 L120.32 438.72 L120.89 439.90 L121.45 441.10 L122.02 442.30 L122.58 443.51 L123.15 444.74 L123.71 445.97 L124.28 447.22 L124.84 448.47 L125.40 449.74 L125.97 451.01 L126.53 452.28 L127.10 453.57 L127.66 454.86 L128.23 456.16 L128.79 457.46 L129.36 458.76 L129.92 460.07 L130.49 461.39 L131.05 462.70 L131.62 464.02 L132.18 465.34 L132.75 466.66 L133.31 467.98 L133.88 469.31 L134.44 470.63 L135.01 471.95 L135.57 473.27 L136.14 474.58 L136.70 475.90 L137.27 477.21 L137.83 478.51 L138.40 479.81 L138.96 481.11 L139.53 482.40 L140.09 483.68 L140.66 484.96 L141.22 486.23 L141.78 487.50 L142.35 488.75 L142.91 490.00 L143.48 491.23 L144.04 492.46 L144.61 493.67 L145.17 494.88 L145.74 496.07 L146.30 497.25 L146.87 498.42 L147.43 499.57 L148.00 500.72 L148.56 501.84 L149.13 502.96 L149.69 504.06 L150.26 505.14 L150.82 506.21 L151.39 507.26 L151.95 508.29 L152.52 509.31 L153.08 510.31 L153.65 511.29 L154.21 512.25 L154.78 513.20 L155.34 514.12 L155.91 515.03 L156.47 515.92 L157.04 516.78 L157.60 517.63 L158.17 518.45 L158.73 519.25 L159.29 520.03 L159.86 520.79 L160.42 521.53 L160.99 522.24 L161.55 522.93 L162.12 523.60 L162.68 524.25 L163.25 524.87 L163.81 525.47 L164.38 526.04 L164.94 526.59 L165.51 527.11 L166.07 527.61 L166.64 528.08 L167.20 528.53 L167.77 528.96 L168.33 529.36 L168.90 529.73 L169.46 530.07 L170.03 530.40 L170.59 530.69 L171.16 530.96 L171.72 531.20 L172.29 531.42 L172.85 531.61 L173.42 531.77 L173.98 531.91 L174.55 532.02 L175.11 532.10 L175.68 532.16 L176.24 532.19 L176.80 532.20 L177.37 532.18 L177.93 532.13 L178.50 532.05 L179.06 531.95 L179.63 531.83 L180.19 531.67 L180.76 531.50 L181.32 531.29 L181.89 531.06 L182.45 530.80 L183.02 530.52 L183.58 530.21 L184.15 529.88 L184.71 529.52 L185.28 529.14 L185.84 528.74 L186.41 528.30 L186.97 527.85 L187.54 527.37 L188.10 526.87 L188.67 526.34 L189.23 525.79 L189.80 525.21 L190.36 524.62 L190.93 524.00 L191.49 523.36 L192.06 522.70 L192.62 522.01 L193.18 521.31 L193.75 520.58 L194.31 519.84 L194.88 519.07 L195.44 518.28 L196.01 517.48 L196.57 516.65 L197.14 515.81 L197.70 514.95 L198.27 514.07 L198.83 513.17 L199.40 512.26 L199.96 511.32 L200.53 510.38 L201.09 509.41 L201.66 508.44 L202.22 507.44 L202.79 506.44 L203.35 505.41 L203.92 504.38 L204.48 503.33 L205.05 502.27 L205.61 501.20 L206.18 500.12 L206.74 499.02 L207.31 497.92 L207.87 496.80 L208.44 495.67 L209.00 494.54 L209.56 493.40 L210.13 492.25 L210.69 491.09 L211.26 489.92 L211.82 488.75 L212.39 487.57 L212.95 486.39 L213.52 485.20 L214.08 484.01 L214.65 482.82 L215.21 481.62 L215.78 480.42 L216.34 479.21 L216.91 478.01 L217.47 476.80 L218.04 475.59 L218.60 474.39 L219.17 473.18 L219.73 471.97 L220.30 470.77 L220.86 469.57 L221.43 468.37 L221.99 467.17 L222.56 465.98 L223.12 464.79 L223.69 463.61 L224.25 462.43 L224.82 461.26 L225.38 460.09 L225.95 458.93 L226.51 457.78 L227.07 456.64 L227.64 455.50 L228.20 454.38 L228.77 453.26 L229.33 452.16 L229.90 451.06 L230.46 449.97 L231.03 448.90 L231.59 447.84 L232.16 446.79 L232.72 445.75 L233.29 444.73 L233.85 443.71 L234.42 442.72 L234.98 441.74 L235.55 440.77 L236.11 439.82 L236.68 438.88 L237.24 437.96 L237.81 437.06 L238.37 436.17 L238.94 435.31 L239.50 434.45 L240.07 433.62 L240.63 432.81 L241.20 432.01 L241.76 431.24 L242.33 430.48 L242.89 429.74 L243.45 429.03 L244.02 428.33 L244.58 427.66 L245.15 427.00 L245.71 426.37 L246.28 425.76 L246.84 425.17 L247.41 424.60 L247.97 424.06 L248.54 423.53 L249.10 423.03 L249.67 422.56 L250.23 422.10 L250.80 421.67 L251.36 421.27 L251.93 420.89 L252.49 420.53 L253.06 420.19 L253.62 419.88 L254.19 419.60 L254.75 419.34 L255.32 419.10 L255.88 418.89 L256.45 418.70 L257.01 418.54 L257.58 418.40 L258.14 418.29 L258.71 418.20 L259.27 418.14 L259.84 418.10 L260.40 418.09 L260.96 418.10 L261.53 418.14 L262.09 418.20 L262.66 418.29 L263.22 418.40 L263.79 418.54 L264.35 418.70 L264.92 418.89 L265.48 419.10 L266.05 419.33 L266.61 419.59 L267.18 419.88 L267.74 420.19 L268.31 420.52 L268.87 420.88 L269.44 421.26 L270.00 421.66 L270.57 422.09 L271.13 422.54 L271.70 423.01 L272.26 423.51 L272.83 424.02 L273.39 424.56 L273.96 425.13 L274.52 425.71 L275.09 426.32 L275.65 426.94 L276.22 427.59 L276.78 428.26 L277.35 428.95 L277.91 429.66 L278.47 430.39 L279.04 431.13 L279.60 431.90 L280.17 432.69 L280.73 433.49 L281.30 434.31 L281.86 435.15 L282.43 436.01 L282.99 436.88 L283.56 437.77 L284.12 438.68 L284.69 439.60 L285.25 440.54 L285.82 441.49 L286.38 442.46 L286.95 443.44 L287.51 444.43 L288.08 445.44 L288.64 446.46 L289.21 447.49 L289.77 448.54 L290.34 449.59 L290.90 450.66 L291.47 451.74 L292.03 452.83 L292.60 453.92 L293.16 455.03 L293.73 456.14 L294.29 457.27 L294.85 458.40 L295.42 459.53 L295.98 460.68 L296.55 461.83 L297.11 462.98 L297.68 464.14 L298.24 465.31 L298.81 466.47 L299.37 467.65 L299.94 468.82 L300.50 470.00 L301.07 471.18 L301.63 472.36 L302.20 473.54 L302.76 474.73 L303.33 475.91 L303.89 477.09 L304.46 478.27 L305.02 479.45 L305.59 480.63 L306.15 481.81 L306.72 482.98 L307.28 484.15 L307.85 485.31 L308.41 486.47 L308.98 487.63 L309.54 488.78 L310.11 489.92 L310.67 491.06 L311.24 492.19 L311.80 493.31 L312.36 494.43 L312.93 495.53 L313.49 496.63 L314.06 497.72 L314.62 498.80 L315.19 499.86 L315.75 500.92 L316.32 501.97 L316.88 503.00 L317.45 504.02 L318.01 505.03 L318.58 506.03 L319.14 507.01 L319.71 507.98 L320.27 508.94 L320.84 509.88 L321.40 510.80 L321.97 511.71 L322.53 512.61 L323.10 513.49 L323.66 514.35 L324.23 515.19 L324.79 516.02 L325.36 516.83 L325.92 517.63 L326.49 518.40 L327.05 519.16 L327.62 519.89 L328.18 520.61 L328.74 521.31 L329.31 521.99 L329.87 522.65 L330.44 523.29 L331.00 523.91 L331.57 524.51 L332.13 525.08 L332.70 525.64 L333.26 526.17 L333.83 526.69 L334.39 527.18 L334.96 527.65 L335.52 528.09 L336.09 528.52 L336.65 528.92 L337.22 529.30 L337.78 529.65 L338.35 529.99 L338.91 530.30 L339.48 530.58 L340.04 530.85 L340.61 531.09 L341.17 531.31 L341.74 531.50 L342.30 531.67 L342.87 531.82 L343.43 531.94 L344.00 532.04 L344.56 532.11 L345.12 532.17 L345.69 532.19 L346.25 532.20 L346.82 532.18 L347.38 532.14 L347.95 532.07 L348.51 531.98 L349.08 531.87 L349.64 531.73 L350.21 531.57 L350.77 531.39 L351.34 531.18 L351.90 530.95 L352.47 530.70 L353.03 530.42 L353.60 530.13 L354.16 529.81 L354.73 529.46 L355.29 529.10 L355.86 528.71 L356.42 528.31 L356.99 527.88 L357.55 527.43 L358.12 526.95 L358.68 526.46 L359.25 525.95 L359.81 525.41 L360.38 524.86 L360.94 524.29 L361.51 523.69 L362.07 523.08 L362.63 522.45 L363.20 521.80 L363.76 521.13 L364.33 520.45 L364.89 519.74 L365.46 519.02 L366.02 518.28 L366.59 517.53 L367.15 516.76 L367.72 515.97 L368.28 515.17 L368.85 514.35 L369.41 513.52 L369.98 512.67 L370.54 511.81 L371.11 510.93 L371.67 510.04 L372.24 509.14 L372.80 508.23 L373.37 507.30 L373.93 506.36 L374.50 505.41 L375.06 504.45 L375.63 503.48 L376.19 502.50 L376.76 501.52 L377.32 500.52 L377.89 499.51 L378.45 498.49 L379.01 497.47 L379.58 496.44 L380.14 495.41 L380.71 494.36 L381.27 493.31 L381.84 492.26 L382.40 491.20 L382.97 490.14 L383.53 489.07 L384.10 488.00 L384.66 486.93 L385.23 485.85 L385.79 484.78 L386.36 483.70 L386.92 482.62 L387.49 481.54 L388.05 480.46 L388.62 479.38 L389.18 478.30 L389.75 477.22 L390.31 476.14 L390.88 475.07 L391.44 474.00 L392.01 472.93 L392.57 471.87 L393.14 470.81 L393.70 469.76 L394.27 468.71 L394.83 467.66 L395.40 466.63 L395.96 465.60 L396.52 464.57 L397.09 463.56 L397.65 462.55 L398.22 461.55 L398.78 460.56 L399.35 459.58 L399.91 458.61 L400.48 457.65 L401.04 456.70 L401.61 455.76 L402.17 454.83 L402.74 453.91 L403.30 453.01 L403.87 452.11 L404.43 451.24 L405.00 450.37 L405.56 449.52 L406.13 448.68 L406.69 447.86 L407.26 447.05 L407.82 446.26 L408.39 445.48 L408.95 444.72 L409.52 443.97 L410.08 443.24 L410.65 442.53 L411.21 441.84 L411.78 441.16 L412.34 440.50 L412.90 439.86 L413.47 439.24 L414.03 438.63 L414.60 438.05 L415.16 437.48 L415.73 436.93 L416.29 436.41 L416.86 435.90 L417.42 435.41 L417.99 434.94 L418.55 434.50 L419.12 434.07 L419.68 433.66 L420.25 433.28 L420.81 432.92 L421.38 432.57 L421.94 432.25 L422.51 431.95 L423.07 431.68 L423.64 431.42 L424.20 431.19 L424.77 430.98 L425.33 430.79 L425.90 430.62 L426.46 430.47 L427.03 430.35 L427.59 430.25 L428.16 430.17 L428.72 430.11 L429.29 430.08 L429.85 430.07 L430.41 430.08 L430.98 430.11 L431.54 430.17 L432.11 430.25 L432.67 430.35 L433.24 430.47 L433.80 430.62 L434.37 430.78 L434.93 430.97 L435.50 431.18 L436.06 431.42 L436.63 431.67 L437.19 431.95 L437.76 432.25 L438.32 432.56 L438.89 432.91 L439.45 433.27 L440.02 433.65 L440.58 434.05 L441.15 434.47 L441.71 434.92 L442.28 435.38 L442.84 435.87 L443.41 436.37 L443.97 436.89 L444.54 437.43 L445.10 438.00 L445.67 438.58 L446.23 439.17 L446.79 439.79 L447.36 440.42 L447.92 441.08 L448.49 441.75 L449.05 442.43 L449.62 443.14 L450.18 443.85 L450.75 444.59 L451.31 445.34 L451.88 446.11 L452.44 446.89 L453.01 447.69 L453.57 448.50 L454.14 449.32 L454.70 450.16 L455.27 451.02 L455.83 451.88 L456.40 452.76 L456.96 453.65 L457.53 454.55 L458.09 455.46 L458.66 456.39 L459.22 457.32 L459.79 458.27 L460.35 459.22 L460.92 460.19 L461.48 461.16 L462.05 462.14 L462.61 463.13 L463.18 464.13 L463.74 465.13 L464.30 466.14 L464.87 467.16 L465.43 468.19 L466.00 469.21 L466.56 470.25 L467.13 471.29 L467.69 472.33 L468.26 473.38 L468.82 474.42 L469.39 475.48 L469.95 476.53 L470.52 477.59 L471.08 478.64 L471.65 479.70 L472.21 480.76 L472.78 481.82 L473.34 482.88 L473.91 483.94 L474.47 484.99 L475.04 486.05 L475.60 487.10 L476.17 488.15 L476.73 489.19 L477.30 490.24 L477.86 491.28 L478.43 492.31 L478.99 493.34 L479.56 494.36 L480.12 495.38 L480.69 496.39 L481.25 497.40 L481.81 498.39 L482.38 499.38 L482.94 500.36 L483.51 501.34 L484.07 502.30 L484.64 503.26 L485.20 504.20 L485.77 505.14 L486.33 506.07 L486.90 506.98 L487.46 507.88 L488.03 508.78 L488.59 509.66 L489.16 510.52 L489.72 511.38 L490.29 512.22 L490.85 513.05 L491.42 513.86 L491.98 514.67 L492.55 515.45 L493.11 516.22 L493.68 516.98 L494.24 517.72 L494.81 518.45 L495.37 519.16 L495.94 519.85 L496.50 520.53 L497.07 521.19 L497.63 521.83 L498.19 522.45 L498.76 523.06 L499.32 523.65 L499.89 524.22 L500.45 524.78 L501.02 525.31 L501.58 525.83 L502.15 526.33 L502.71 526.81 L503.28 527.26 L503.84 527.70 L504.41 528.12 L504.97 528.52 L505.54 528.90 L506.10 529.26 L506.67 529.60 L507.23 529.92 L507.80 530.22 L508.36 530.50 L508.93 530.75 L509.49 530.99 L510.06 531.21 L510.62 531.40 L511.19 531.57 L511.75 531.73 L512.32 531.86 L512.88 531.97 L513.45 532.06 L514.01 532.12 L514.58 532.17 L515.14 532.20 L515.70 532.20 L516.27 532.18 L516.83 532.14 L517.40 532.08 L517.96 532.00 L518.53 531.90 L519.09 531.78 L519.66 531.64 L520.22 531.47 L520.79 531.29 L521.35 531.08 L521.92 530.86 L522.48 530.61 L523.05 530.34 L523.61 530.06 L524.18 529.75 L524.74 529.42 L525.31 529.08 L525.87 528.71 L526.44 528.33 L527.00 527.93 L527.57 527.50 L528.13 527.06 L528.70 526.60 L529.26 526.13 L529.83 525.63 L530.39 525.12 L530.96 524.59 L531.52 524.04 L532.08 523.48 L532.65 522.89 L533.21 522.30 L533.78 521.68 L534.34 521.05 L534.91 520.41 L535.47 519.75 L536.04 519.07 L536.60 518.38 L537.17 517.67 L537.73 516.96 L538.30 516.22 L538.86 515.48 L539.43 514.72 L539.99 513.95 L540.56 513.16 L541.12 512.37 L541.69 511.56 L542.25 510.74 L542.82 509.92 L543.38 509.08 L543.95 508.23 L544.51 507.37 L545.08 506.50 L545.64 505.62 L546.21 504.74 L546.77 503.84 L547.34 502.94 L547.90 502.03 L548.47 501.12 L549.03 500.20 L549.59 499.27 L550.16 498.34 L550.72 497.40 L551.29 496.45 L551.85 495.51 L552.42 494.56 L552.98 493.60 L553.55 492.64 L554.11 491.68 L554.68 490.72 L555.24 489.76 L555.81 488.79 L556.37 487.82 L556.94 486.86 L557.50 485.89 L558.07 484.92 L558.63 483.96 L559.20 482.99 L559.76 482.03 L560.33 481.07 L560.89 480.11 L561.46 479.16 L562.02 478.20 L562.59 477.26 L563.15 476.31 L563.72 475.37 L564.28 474.44 L564.85 473.51 L565.41 472.59 L565.97 471.67 L566.54 470.77 L567.10 469.86 L567.67 468.97 L568.23 468.08 L568.80 467.20 L569.36 466.33 L569.93 465.47 L570.49 464.62 L571.06 463.78 L571.62 462.95 L572.19 462.13 L572.75 461.32 L573.32 460.52 L573.88 459.74 L574.45 458.96 L575.01 458.20 L575.58 457.45 L576.14 456.71 L576.71 455.99 L577.27 455.28 L577.84 454.59 L578.40 453.90 L578.97 453.24 L579.53 452.58 L580.10 451.95 L580.66 451.33 L581.23 450.72 L581.79 450.13 L582.36 449.56 L582.92 449.00 L583.48 448.46 L584.05 447.93 L584.61 447.43 L585.18 446.94 L585.74 446.46 L586.31 446.01 L586.87 445.57 L587.44 445.16 L588.00 444.76 L588.57 444.37 L589.13 444.01 L589.70 443.67 L590.26 443.34 L590.83 443.03 L591.39 442.75 L591.96 442.48 L592.52 442.23 L593.09 442.00 L593.65 441.79 L594.22 441.60 L594.78 441.43 L595.35 441.28 L595.91 441.15 L596.48 441.04 L597.04 440.95 L597.61 440.88 L598.17 440.83 L598.74 440.80 L599.30 440.79" stroke="#000" stroke-width="4.2" stroke-linecap="square"/>
<path d="M90.95 404.70 L91.51 404.71 L92.08 404.76 L92.64 404.83 L93.21 404.92 L93.77 405.05 L94.34 405.20 L94.90 405.38 L95.47 405.59 L96.03 405.83 L96.60 406.09 L97.16 406.38 L97.73 406.70 L98.29 407.05 L98.86 407.42 L99.42 407.82 L99.99 408.24 L100.55 408.69 L101.12 409.17 L101.68 409.67 L102.25 410.20 L102.81 410.75 L103.38 411.33 L103.94 411.94 L104.51 412.56 L105.07 413.22 L105.64 413.89 L106.20 414.59 L106.77 415.32 L107.33 416.07 L107.90 416.84 L108.46 417.63 L109.02 418.44 L109.59 419.28 L110.15 420.13 L110.72 421.01 L111.28 421.91 L111.85 422.83 L112.41 423.77 L112.98 424.72 L113.54 425.70 L114.11 426.70 L114.67 427.71 L115.24 428.74 L115.80 429.79 L116.37 430.85 L116.93 431.93 L117.50 433.03 L118.06 434.14 L118.63 435.26 L119.19 436.40 L119.76 437.56 L120.32 438.72 L120.89 439.90 L121.45 441.10 L122.02 442.30 L122.58 443.51 L123.15 444.74 L123.71 445.97 L124.28 447.22 L124.84 448.47 L125.40 449.74 L125.97 451.01 L126.53 452.28 L127.10 453.57 L127.66 454.86 L128.23 456.16 L128.79 457.46 L129.36 458.76 L129.92 460.07 L130.49 461.39 L131.05 462.70 L131.62 464.02 L132.18 465.34 L132.75 466.66 L133.31 467.98 L133.88 469.31 L134.44 470.63 L135.01 471.95 L135.57 473.27 L136.14 474.58 L136.70 475.90 L137.27 477.21 L137.83 478.51 L138.40 479.81 L138.96 481.11 L139.53 482.40 L140.09 483.68 L140.66 484.96 L141.22 486.23 L141.78 487.50 L142.35 488.75 L142.91 490.00 L143.48 491.23 L144.04 492.46 L144.61 493.67 L145.17 494.88 L145.74 496.07 L146.30 497.25 L146.87 498.42 L147.43 499.57 L148.00 500.72 L148.56 501.84 L149.13 502.96 L149.69 504.06 L150.26 505.14 L150.82 506.21 L151.39 507.26 L151.95 508.29 L152.52 509.31 L153.08 510.31 L153.65 511.29 L154.21 512.25 L154.78 513.20 L155.34 514.12 L155.91 515.03 L156.47 515.92 L157.04 516.78 L157.60 517.63 L158.17 518.45 L158.73 519.25 L159.29 520.03 L159.86 520.79 L160.42 521.53 L160.99 522.24 L161.55 522.93 L162.12 523.60 L162.68 524.25 L163.25 524.87 L163.81 525.47 L164.38 526.04 L164.94 526.59 L165.51 527.11 L166.07 527.61 L166.64 528.08 L167.20 528.53 L167.77 528.96 L168.33 529.36 L168.90 529.73 L169.46 530.07 L170.03 530.40 L170.59 530.69 L171.16 530.96 L171.72 531.20 L172.29 531.42 L172.85 531.61 L173.42 531.77 L173.98 531.91 L174.55 532.02 L175.11 532.10 L175.68 532.16 L176.24 532.19 L176.80 532.20 L177.37 532.18 L177.93 532.13 L178.50 532.05 L179.06 531.95 L179.63 531.83 L180.19 531.67 L180.76 531.50 L181.32 531.29 L181.89 531.06 L182.45 530.80 L183.02 530.52 L183.58 530.21 L184.15 529.88 L184.71 529.52 L185.28 529.14 L185.84 528.74 L186.41 528.30 L186.97 527.85 L187.54 527.37 L188.10 526.87 L188.67 526.34 L189.23 525.79 L189.80 525.21 L190.36 524.62 L190.93 524.00 L191.49 523.36 L192.06 522.70 L192.62 522.01 L193.18 521.31 L193.75 520.58 L194.31 519.84 L194.88 519.07 L195.44 518.28 L196.01 517.48 L196.57 516.65 L197.14 515.81 L197.70 514.95 L198.27 514.07 L198.83 513.17 L199.40 512.26 L199.96 511.32 L200.53 510.38 L201.09 509.41 L201.66 508.44 L202.22 507.44 L202.79 506.44 L203.35 505.41 L203.92 504.38 L204.48 503.33 L205.05 502.27 L205.61 501.20 L206.18 500.12 L206.74 499.02 L207.31 497.92 L207.87 496.80 L208.44 495.67 L209.00 494.54 L209.56 493.40 L210.13 492.25 L210.69 491.09 L211.26 489.92 L211.82 488.75 L212.39 487.57 L212.95 486.39 L213.52 485.20 L214.08 484.01 L214.65 482.82 L215.21 481.62 L215.78 480.42 L216.34 479.21 L216.91 478.01 L217.47 476.80 L218.04 475.59 L218.60 474.39 L219.17 473.18 L219.73 471.97 L220.30 470.77 L220.86 469.57 L221.43 468.37 L221.99 467.17 L222.56 465.98 L223.12 464.79 L223.69 463.61 L224.25 462.43 L224.82 461.26 L225.38 460.09 L225.95 458.93 L226.51 457.78 L227.07 456.64 L227.64 455.50 L228.20 454.38 L228.77 453.26 L229.33 452.16 L229.90 451.06 L230.46 449.97 L231.03 448.90 L231.59 447.84 L232.16 446.79 L232.72 445.75 L233.29 444.73 L233.85 443.71 L234.42 442.72 L234.98 441.74 L235.55 440.77 L236.11 439.82 L236.68 438.88 L237.24 437.96 L237.81 437.06 L238.37 436.17 L238.94 435.31 L239.50 434.45 L240.07 433.62 L240.63 432.81 L241.20 432.01 L241.76 431.24 L242.33 430.48 L242.89 429.74 L243.45 429.03 L244.02 428.33 L244.58 427.66 L245.15 427.00 L245.71 426.37 L246.28 425.76 L246.84 425.17 L247.41 424.60 L247.97 424.06 L248.54 423.53 L249.10 423.03 L249.67 422.56 L250.23 422.10 L250.80 421.67 L251.36 421.27 L251.93 420.89 L252.49 420.53 L253.06 420.19 L253.62 419.88 L254.19 419.60 L254.75 419.34 L255.32 419.10 L255.88 418.89 L256.45 418.70 L257.01 418.54 L257.58 418.40 L258.14 418.29 L258.71 418.20 L259.27 418.14 L259.84 418.10 L260.40 418.09 L260.96 418.10 L261.53 418.14 L262.09 418.20 L262.66 418.29 L263.22 418.40 L263.79 418.54 L264.35 418.70 L264.92 418.89 L265.48 419.10 L266.05 419.33 L266.61 419.59 L267.18 419.88 L267.74 420.19 L268.31 420.52 L268.87 420.88 L269.44 421.26 L270.00 421.66 L270.57 422.09 L271.13 422.54 L271.70 423.01 L272.26 423.51 L272.83 424.02 L273.39 424.56 L273.96 425.13 L274.52 425.71 L275.09 426.32 L275.65 426.94 L276.22 427.59 L276.78 428.26 L277.35 428.95 L277.91 429.66 L278.47 430.39 L279.04 431.13 L279.60 431.90 L280.17 432.69 L280.73 433.49 L281.30 434.31 L281.86 435.15 L282.43 436.01 L282.99 436.88 L283.56 437.77 L284.12 438.68 L284.69 439.60 L285.25 440.54 L285.82 441.49 L286.38 442.46 L286.95 443.44 L287.51 444.43 L288.08 445.44 L288.64 446.46 L289.21 447.49 L289.77 448.54 L290.34 449.59 L290.90 450.66 L291.47 451.74 L292.03 452.83 L292.60 453.92 L293.16 455.03 L293.73 456.14 L294.29 457.27 L294.85 458.40 L295.42 459.53 L295.98 460.68 L296.55 461.83 L297.11 462.98 L297.68 464.14 L298.24 465.31 L298.81 466.47 L299.37 467.65 L299.94 468.82 L300.50 470.00 L301.07 471.18 L301.63 472.36 L302.20 473.54 L302.76 474.73 L303.33 475.91 L303.89 477.09 L304.46 478.27 L305.02 479.45 L305.59 480.63 L306.15 481.81 L306.72 482.98 L307.28 484.15 L307.85 485.31 L308.41 486.47 L308.98 487.63 L309.54 488.78 L310.11 489.92 L310.67 491.06 L311.24 492.19 L311.80 493.31 L312.36 494.43 L312.93 495.53 L313.49 496.63 L314.06 497.72 L314.62 498.80 L315.19 499.86 L315.75 500.92 L316.32 501.97 L316.88 503.00 L317.45 504.02 L318.01 505.03 L318.58 506.03 L319.14 507.01 L319.71 507.98 L320.27 508.94 L320.84 509.88 L321.40 510.80 L321.97 511.71 L322.53 512.61 L323.10 513.49 L323.66 514.35 L324.23 515.19 L324.79 516.02 L325.36 516.83 L325.92 517.63 L326.49 518.40 L327.05 519.16 L327.62 519.89 L328.18 520.61 L328.74 521.31 L329.31 521.99 L329.87 522.65 L330.44 523.29 L331.00 523.91 L331.57 524.51 L332.13 525.08 L332.70 525.64 L333.26 526.17 L333.83 526.69 L334.39 527.18 L334.96 527.65 L335.52 528.09 L336.09 528.52 L336.65 528.92 L337.22 529.30 L337.78 529.65 L338.35 529.99 L338.91 530.30 L339.48 530.58 L340.04 530.85 L340.61 531.09 L341.17 531.31 L341.74 531.50 L342.30 531.67 L342.87 531.82 L343.43 531.94 L344.00 532.04 L344.56 532.11 L345.12 532.17 L345.69 532.19 L346.25 532.20 L346.82 532.18 L347.38 532.14 L347.95 532.07 L348.51 531.98 L349.08 531.87 L349.64 531.73 L350.21 531.57 L350.77 531.39 L351.34 531.18 L351.90 530.95 L352.47 530.70 L353.03 530.42 L353.60 530.13 L354.16 529.81 L354.73 529.46 L355.29 529.10 L355.86 528.71 L356.42 528.31 L356.99 527.88 L357.55 527.43 L358.12 526.95 L358.68 526.46 L359.25 525.95 L359.81 525.41 L360.38 524.86 L360.94 524.29 L361.51 523.69 L362.07 523.08 L362.63 522.45 L363.20 521.80 L363.76 521.13 L364.33 520.45 L364.89 519.74 L365.46 519.02 L366.02 518.28 L366.59 517.53 L367.15 516.76 L367.72 515.97 L368.28 515.17 L368.85 514.35 L369.41 513.52 L369.98 512.67 L370.54 511.81 L371.11 510.93 L371.67 510.04 L372.24 509.14 L372.80 508.23 L373.37 507.30 L373.93 506.36 L374.50 505.41 L375.06 504.45 L375.63 503.48 L376.19 502.50 L376.76 501.52 L377.32 500.52 L377.89 499.51 L378.45 498.49 L379.01 497.47 L379.58 496.44 L380.14 495.41 L380.71 494.36 L381.27 493.31 L381.84 492.26 L382.40 491.20 L382.97 490.14 L383.53 489.07 L384.10 488.00 L384.66 486.93 L385.23 485.85 L385.79 484.78 L386.36 483.70 L386.92 482.62 L387.49 481.54 L388.05 480.46 L388.62 479.38 L389.18 478.30 L389.75 477.22 L390.31 476.14 L390.88 475.07 L391.44 474.00 L392.01 472.93 L392.57 471.87 L393.14 470.81 L393.70 469.76 L394.27 468.71 L394.83 467.66 L395.40 466.63 L395.96 465.60 L396.52 464.57 L397.09 463.56 L397.65 462.55 L398.22 461.55 L398.78 460.56 L399.35 459.58 L399.91 458.61 L400.48 457.65 L401.04 456.70 L401.61 455.76 L402.17 454.83 L402.74 453.91 L403.30 453.01 L403.87 452.11 L404.43 451.24 L405.00 450.37 L405.56 449.52 L406.13 448.68 L406.69 447.86 L407.26 447.05 L407.82 446.26 L408.39 445.48 L408.95 444.72 L409.52 443.97 L410.08 443.24 L410.65 442.53 L411.21 441.84 L411.78 441.16 L412.34 440.50 L412.90 439.86 L413.47 439.24 L414.03 438.63 L414.60 438.05 L415.16 437.48 L415.73 436.93 L416.29 436.41 L416.86 435.90 L417.42 435.41 L417.99 434.94 L418.55 434.50 L419.12 434.07 L419.68 433.66 L420.25 433.28 L420.81 432.92 L421.38 432.57 L421.94 432.25 L422.51 431.95 L423.07 431.68 L423.64 431.42 L424.20 431.19 L424.77 430.98 L425.33 430.79 L425.90 430.62 L426.46 430.47 L427.03 430.35 L427.59 430.25 L428.16 430.17 L428.72 430.11 L429.29 430.08 L429.85 430.07 L430.41 430.08 L430.98 430.11 L431.54 430.17 L432.11 430.25 L432.67 430.35 L433.24 430.47 L433.80 430.62 L434.37 430.78 L434.93 430.97 L435.50 431.18 L436.06 431.42 L436.63 431.67 L437.19 431.95 L437.76 432.25 L438.32 432.56 L438.89 432.91 L439.45 433.27 L440.02 433.65 L440.58 434.05 L441.15 434.47 L441.71 434.92 L442.28 435.38 L442.84 435.87 L443.41 436.37 L443.97 436.89 L444.54 437.43 L445.10 438.00 L445.67 438.58 L446.23 439.17 L446.79 439.79 L447.36 440.42 L447.92 441.08 L448.49 441.75 L449.05 442.43 L449.62 443.14 L450.18 443.85 L450.75 444.59 L451.31 445.34 L451.88 446.11 L452.44 446.89 L453.01 447.69 L453.57 448.50 L454.14 449.32 L454.70 450.16 L455.27 451.02 L455.83 451.88 L456.40 452.76 L456.96 453.65 L457.53 454.55 L458.09 455.46 L458.66 456.39 L459.22 457.32 L459.79 458.27 L460.35 459.22 L460.92 460.19 L461.48 461.16 L462.05 462.14 L462.61 463.13 L463.18 464.13 L463.74 465.13 L464.30 466.14 L464.87 467.16 L465.43 468.19 L466.00 469.21 L466.56 470.25 L467.13 471.29 L467.69 472.33 L468.26 473.38 L468.82 474.42 L469.39 475.48 L469.95 476.53 L470.52 477.59 L471.08 478.64 L471.65 479.70 L472.21 480.76 L472.78 481.82 L473.34 482.88 L473.91 483.94 L474.47 484.99 L475.04 486.05 L475.60 487.10 L476.17 488.15 L476.73 489.19 L477.30 490.24 L477.86 491.28 L478.43 492.31 L478.99 493.34 L479.56 494.36 L480.12 495.38 L480.69 496.39 L481.25 497.40 L481.81 498.39 L482.38 499.38 L482.94 500.36 L483.51 501.34 L484.07 502.30 L484.64 503.26 L485.20 504.20 L485.77 505.14 L486.33 506.07 L486.90 506.98 L487.46 507.88 L488.03 508.78 L488.59 509.66 L489.16 510.52 L489.72 511.38 L490.29 512.22 L490.85 513.05 L491.42 513.86 L491.98 514.67 L492.55 515.45 L493.11 516.22 L493.68 516.98 L494.24 517.72 L494.81 518.45 L495.37 519.16 L495.94 519.85 L496.50 520.53 L497.07 521.19 L497.63 521.83 L498.19 522.45 L498.76 523.06 L499.32 523.65 L499.89 524.22 L500.45 524.78 L501.02 525.31 L501.58 525.83 L502.15 526.33 L502.71 526.81 L503.28 527.26 L503.84 527.70 L504.41 528.12 L504.97 528.52 L505.54 528.90 L506.10 529.26 L506.67 529.60 L507.23 529.92 L507.80 530.22 L508.36 530.50 L508.93 530.75 L509.49 530.99 L510.06 531.21 L510.62 531.40 L511.19 531.57 L511.75 531.73 L512.32 531.86 L512.88 531.97 L513.45 532.06 L514.01 532.12 L514.58 532.17 L515.14 532.20 L515.70 532.20 L516.27 532.18 L516.83 532.14 L517.40 532.08 L517.96 532.00 L518.53 531.90 L519.09 531.78 L519.66 531.64 L520.22 531.47 L520.79 531.29 L521.35 531.08 L521.92 530.86 L522.48 530.61 L523.05 530.34 L523.61 530.06 L524.18 529.75 L524.74 529.42 L525.31 529.08 L525.87 528.71 L526.44 528.33 L527.00 527.93 L527.57 527.50 L528.13 527.06 L528.70 526.60 L529.26 526.13 L529.83 525.63 L530.39 525.12 L530.96 524.59 L531.52 524.04 L532.08 523.48 L532.65 522.89 L533.21 522.30 L533.78 521.68 L534.34 521.05 L534.91 520.41 L535.47 519.75 L536.04 519.07 L536.60 518.38 L537.17 517.67 L537.73 516.96 L538.30 516.22 L538.86 515.48 L539.43 514.72 L539.99 513.95 L540.56 513.16 L541.12 512.37 L541.69 511.56 L542.25 510.74 L542.82 509.92 L543.38 509.08 L543.95 508.23 L544.51 507.37 L545.08 506.50 L545.64 505.62 L546.21 504.74 L546.77 503.84 L547.34 502.94 L547.90 502.03 L548.47 501.12 L549.03 500.20 L549.59 499.27 L550.16 498.34 L550.72 497.40 L551.29 496.45 L551.85 495.51 L552.42 494.56 L552.98 493.60 L553.55 492.64 L554.11 491.68 L554.68 490.72 L555.24 489.76 L555.81 488.79 L556.37 487.82 L556.94 486.86 L557.50 485.89 L558.07 484.92 L558.63 483.96 L559.20 482.99 L559.76 482.03 L560.33 481.07 L560.89 480.11 L561.46 479.16 L562.02 478.20 L562.59 477.26 L563.15 476.31 L563.72 475.37 L564.28 474.44 L564.85 473.51 L565.41 472.59 L565.97 471.67 L566.54 470.77 L567.10 469.86 L567.67 468.97 L568.23 468.08 L568.80 467.20 L569.36 466.33 L569.93 465.47 L570.49 464.62 L571.06 463.78 L571.62 462.95 L572.19 462.13 L572.75 461.32 L573.32 460.52 L573.88 459.74 L574.45 458.96 L575.01 458.20 L575.58 457.45 L576.14 456.71 L576.71 455.99 L577.27 455.28 L577.84 454.59 L578.40 453.90 L578.97 453.24 L579.53 452.58 L580.10 451.95 L580.66 451.33 L581.23 450.72 L581.79 450.13 L582.36 449.56 L582.92 449.00 L583.48 448.46 L584.05 447.93 L584.61 447.43 L585.18 446.94 L585.74 446.46 L586.31 446.01 L586.87 445.57 L587.44 445.16 L588.00 444.76 L588.57 444.37 L589.13 444.01 L589.70 443.67 L590.26 443.34 L590.83 443.03 L591.39 442.75 L591.96 442.48 L592.52 442.23 L593.09 442.00 L593.65 441.79 L594.22 441.60 L594.78 441.43 L595.35 441.28 L595.91 441.15 L596.48 441.04 L597.04 440.95 L597.61 440.88 L598.17 440.83 L598.74 440.80 L599.30 440.79" stroke="#7FB5D5" stroke-width="4.7" stroke-dasharray="17.39 7.52" stroke-linecap="butt"/>
</g>
<polygon points="346.12,286.00 343.99,292.57 337.09,292.57 342.67,296.62 340.54,303.19 346.12,299.13 351.71,303.19 349.58,296.62 355.16,292.57 348.26,292.57" fill="#000" stroke="#000" stroke-width="4.9" stroke-linejoin="bevel"/>
<circle cx="260.40" cy="471.80" r="11.8" fill="#000"/>
<rect x="65.25" y="77.2" width="557.65" height="476.5" fill="none" stroke="#000" stroke-width="3.5"/>
<line x1="90.95" y1="553.7" x2="90.95" y2="537.1" stroke="#000" stroke-width="3.5"/>
<line x1="260.40" y1="553.7" x2="260.40" y2="537.1" stroke="#000" stroke-width="3.5"/>
<line x1="429.85" y1="553.7" x2="429.85" y2="537.1" stroke="#000" stroke-width="3.5"/>
<line x1="599.30" y1="553.7" x2="599.30" y2="537.1" stroke="#000" stroke-width="3.5"/>
<line x1="65.25" y1="532.20" x2="82.0" y2="532.20" stroke="#000" stroke-width="3.5"/>
<line x1="65.25" y1="404.70" x2="82.0" y2="404.70" stroke="#000" stroke-width="3.5"/>
<line x1="65.25" y1="277.20" x2="82.0" y2="277.20" stroke="#000" stroke-width="3.5"/>
<line x1="65.25" y1="149.70" x2="82.0" y2="149.70" stroke="#000" stroke-width="3.5"/>
<line x1="89.8" y1="120.7" x2="155.8" y2="120.7" stroke="#808080" stroke-width="4.7" stroke-linecap="butt" stroke-dasharray="30.08 7.52 4.70 7.52"/>
<line x1="89.8" y1="177.4" x2="155.8" y2="177.4" stroke="#FFA500" stroke-width="4.7" stroke-linecap="butt" stroke-dasharray="17.39 7.52"/>
<line x1="89.8" y1="231.4" x2="155.8" y2="231.4" stroke="#7FB5D5" stroke-width="4.7" stroke-linecap="butt" stroke-dasharray="17.39 7.52"/>
<line x1="89.8" y1="285.4" x2="155.8" y2="285.4" stroke="#A32A2A" stroke-width="4.7" stroke-linecap="square"/>
<line x1="89.8" y1="339.4" x2="155.8" y2="339.4" stroke="#000" stroke-width="4.7" stroke-linecap="square"/>
<text font-family="'Liberation Sans', sans-serif" font-weight="bold" font-size="40.00" transform="translate(11.26 51.31) scale(0.9705 0.9994)" fill="#000">a</text>
<text font-family="'Liberation Sans', sans-serif" font-weight="bold" font-size="40.00" transform="translate(652.34 51.31) scale(1.0865 0.9872)" fill="#000">b</text>
<text font-family="'Liberation Sans', sans-serif" font-size="34.60" transform="translate(40.82 544.82) scale(1.0155 1.0292)" fill="#000">0</text>
<text font-family="'Liberation Sans', sans-serif" font-size="34.60" transform="translate(41.10 417.20) scale(0.9699 1.0208)" fill="#000">1</text>
<text font-family="'Liberation Sans', sans-serif" font-size="34.60" transform="translate(40.73 289.70) scale(0.9789 1.0240)" fill="#000">2</text>
<text font-family="'Liberation Sans', sans-serif" font-size="34.60" transform="translate(41.25 162.32) scale(0.9753 1.0292)" fill="#000">3</text>
<text font-family="'Liberation Sans', sans-serif" font-size="34.60" transform="translate(81.17 587.72) scale(1.0155 1.0292)" fill="#000">0</text>
<text font-family="'Liberation Sans', sans-serif" font-size="34.60" transform="translate(250.90 587.60) scale(0.9699 1.0208)" fill="#000">1</text>
<text font-family="'Liberation Sans', sans-serif" font-size="34.60" transform="translate(419.98 587.60) scale(0.9789 1.0240)" fill="#000">2</text>
<text font-family="'Liberation Sans', sans-serif" font-size="34.60" transform="translate(589.95 587.72) scale(0.9753 1.0292)" fill="#000">3</text>
<text font-family="'Liberation Sans', sans-serif" font-size="34.60" transform="translate(171.41 619.80) scale(0.9122 1.0106)" fill="#000">R</text>
<text font-family="'Liberation Sans', sans-serif" font-size="34.60" transform="translate(194.41 619.93) scale(0.8577 0.9997)" fill="#000">a</text>
<text font-family="'Liberation Sans', sans-serif" font-size="34.60" transform="translate(214.60 619.93) scale(1.0376 1.0051)" fill="#000">b</text>
<text font-family="'Liberation Sans', sans-serif" font-size="34.60" transform="translate(235.71 619.80) scale(0.9750 1.0000)" fill="#000">i</text>
<text font-family="'Liberation Sans', sans-serif" font-size="34.60" transform="translate(255.20 619.61) scale(1.0376 0.9831)" fill="#000">p</text>
<text font-family="'Liberation Sans', sans-serif" font-size="34.60" transform="translate(275.77 619.93) scale(1.0302 0.9997)" fill="#000">e</text>
<text font-family="'Liberation Sans', sans-serif" font-size="34.60" transform="translate(295.96 619.80) scale(1.2220 0.9927)" fill="#000">r</text>
<text font-family="'Liberation Sans', sans-serif" font-size="34.60" transform="translate(310.19 619.80) scale(0.9750 1.0000)" fill="#000">i</text>
<text font-family="'Liberation Sans', sans-serif" font-size="34.60" transform="translate(318.85 619.93) scale(1.0139 0.9997)" fill="#000">o</text>
<text font-family="'Liberation Sans', sans-serif" font-size="34.60" transform="translate(339.01 619.93) scale(1.0366 1.0051)" fill="#000">d</text>
<text font-family="'Liberation Sans', sans-serif" font-size="34.60" transform="translate(360.55 619.93) scale(0.9142 1.0023)" fill="#000">s</text>
<polygon points="380.70,615.71 384.10,615.71 384.10,618.48 381.46,623.63 379.38,623.63 380.70,618.48" fill="#000"/>
<text font-family="'Liberation Sans', sans-serif" font-size="34.00" transform="translate(397.57 619.30) scale(0.9945 0.9945)" fill="#000">(</text>
<text font-family="'Liberation Sans', sans-serif" font-size="34.00" transform="translate(409.65 620.00) scale(1.0846 1.0320)" fill="#000">2</text>
<text font-family="'Liberation Sans', sans-serif" font-style="italic" font-size="34.00" transform="translate(430.63 619.64) scale(0.7713 1.0713)" fill="#000">π</text>
<polygon points="457.40,595.95 460.17,595.95 451.70,623.35 448.93,623.35" fill="#000"/>
<text font-family="'Liberation Sans', sans-serif" font-size="34.00" transform="translate(460.05 620.00) scale(1.0846 1.0320)" fill="#000">2</text>
<text font-family="'Liberation Sans', sans-serif" font-style="italic" font-size="34.00" transform="translate(481.43 619.59) scale(0.9815 1.0500)" fill="#000">g</text>
<text font-family="'Liberation Sans', sans-serif" font-size="34.00" transform="translate(503.07 619.30) scale(0.9945 0.9945)" fill="#000">)</text>
<g transform="rotate(-90)">
<text font-family="'Liberation Sans', sans-serif" font-size="34.60" transform="translate(-404.53 28.20) scale(0.8216 1.0045)" fill="#000">E</text>
<text font-family="'Liberation Sans', sans-serif" font-size="34.60" transform="translate(-384.16 28.20) scale(1.0516 0.9813)" fill="#000">x</text>
<text font-family="'Liberation Sans', sans-serif" font-size="34.60" transform="translate(-364.87 28.33) scale(0.9512 0.9936)" fill="#000">c</text>
<text font-family="'Liberation Sans', sans-serif" font-size="34.60" transform="translate(-346.40 28.20) scale(0.9690 0.9940)" fill="#000">i</text>
<text font-family="'Liberation Sans', sans-serif" font-size="34.60" transform="translate(-337.92 27.93) scale(1.2670 1.0173)" fill="#000">t</text>
<text font-family="'Liberation Sans', sans-serif" font-size="34.60" transform="translate(-324.56 28.33) scale(0.8525 0.9936)" fill="#000">a</text>
<text font-family="'Liberation Sans', sans-serif" font-size="34.60" transform="translate(-304.96 27.93) scale(1.2670 1.0173)" fill="#000">t</text>
<text font-family="'Liberation Sans', sans-serif" font-size="34.60" transform="translate(-291.47 28.20) scale(0.9690 0.9940)" fill="#000">i</text>
<text font-family="'Liberation Sans', sans-serif" font-size="34.60" transform="translate(-282.86 28.33) scale(1.0078 0.9936)" fill="#000">o</text>
<text font-family="'Liberation Sans', sans-serif" font-size="34.60" transform="translate(-262.51 28.20) scale(1.0221 0.9867)" fill="#000">n</text>
<text font-family="'Liberation Sans', sans-serif" font-size="34.60" transform="translate(-241.45 28.33) scale(0.9087 0.9963)" fill="#000">s</text>
</g>
<rect x="173.6" y="104.4" width="3.0" height="30.8" fill="#000"/>
<text font-family="'Liberation Sans', sans-serif" font-style="italic" font-size="34.00" transform="translate(178.69 129.36) scale(1.0407 0.9771)" fill="#000">α</text>
<text font-family="'Liberation Sans', sans-serif" font-size="34.00" transform="translate(201.07 128.90) scale(0.9945 0.9945)" fill="#000">(</text>
<text font-family="'Liberation Sans', sans-serif" font-style="italic" font-size="34.00" transform="translate(213.94 129.36) scale(1.0871 1.0353)" fill="#000" style="stroke-width:0.1px">t</text>
<text font-family="'Liberation Sans', sans-serif" font-size="34.00" transform="translate(229.12 128.90) scale(0.9945 0.9945)" fill="#000">)</text>
<rect x="244.9" y="104.4" width="3.0" height="30.8" fill="#000"/>
<text font-family="'Liberation Sans', sans-serif" font-size="34.00" transform="translate(250.69 116.50) scale(0.7102 0.7203)" fill="#000">2</text>
<polyline points="176.77,161.00 171.73,175.85 176.77,190.70" fill="none" stroke="#000" stroke-width="2.6" stroke-linejoin="miter" stroke-linecap="butt"/>
<text font-family="'Liberation Sans', sans-serif" font-style="italic" font-size="34.00" transform="translate(180.55 185.97) scale(0.9833 1.0039)" fill="#000">a</text>
<polyline points="185.30,161.60 189.75,157.40 194.20,161.60" fill="none" stroke="#000" stroke-width="2.0" stroke-linejoin="miter" stroke-linecap="butt"/>
<text font-family="'Liberation Sans', sans-serif" font-size="34.00" transform="translate(200.32 174.31) scale(0.6902 0.6945)" fill="#000">†</text>
<text font-family="'Liberation Sans', sans-serif" font-style="italic" font-size="34.00" transform="translate(213.24 185.97) scale(1.0010 1.0039)" fill="#000">a</text>
<polyline points="218.30,161.60 222.75,157.40 227.20,161.60" fill="none" stroke="#000" stroke-width="2.0" stroke-linejoin="miter" stroke-linecap="butt"/>
<polyline points="237.43,161.00 242.27,175.85 237.43,190.70" fill="none" stroke="#000" stroke-width="2.6" stroke-linejoin="miter" stroke-linecap="butt"/>
<polygon points="250.85,182.17 254.29,182.17 254.29,184.97 251.62,190.17 249.52,190.17 250.85,184.97" fill="#000"/>
<text font-family="'Liberation Sans', sans-serif" font-size="34.60" transform="translate(267.08 186.43) scale(0.9667 1.0097)" fill="#000">c</text>
<text font-family="'Liberation Sans', sans-serif" font-size="34.60" transform="translate(285.72 186.43) scale(0.8663 1.0097)" fill="#000">a</text>
<text font-family="'Liberation Sans', sans-serif" font-size="34.60" transform="translate(306.05 186.30) scale(1.0387 1.0027)" fill="#000">n</text>
<text font-family="'Liberation Sans', sans-serif" font-size="34.60" transform="translate(326.96 186.43) scale(0.9667 1.0097)" fill="#000">c</text>
<text font-family="'Liberation Sans', sans-serif" font-size="34.60" transform="translate(345.18 186.43) scale(1.0406 1.0097)" fill="#000">e</text>
<text font-family="'Liberation Sans', sans-serif" font-size="34.60" transform="translate(366.22 186.30) scale(0.9848 1.0101)" fill="#000">l</text>
<polyline points="176.87,215.10 171.73,229.95 176.87,244.80" fill="none" stroke="#000" stroke-width="2.6" stroke-linejoin="miter" stroke-linecap="butt"/>
<text font-family="'Liberation Sans', sans-serif" font-style="italic" font-size="34.00" transform="translate(180.68 240.24) scale(0.9933 1.0877)" fill="#000">σ</text>
<polyline points="190.00,217.00 194.40,211.50 198.80,217.00" fill="none" stroke="#000" stroke-width="2.0" stroke-linejoin="miter" stroke-linecap="butt"/>
<text font-family="'Liberation Sans', sans-serif" font-size="34.00" transform="translate(206.19 229.24) scale(0.9081 0.8837)" fill="#000">+</text>
<text font-family="'Liberation Sans', sans-serif" font-style="italic" font-size="34.00" transform="translate(230.76 240.24) scale(1.0080 1.0877)" fill="#000">σ</text>
<polyline points="240.40,217.00 244.80,211.50 249.20,217.00" fill="none" stroke="#000" stroke-width="2.0" stroke-linejoin="miter" stroke-linecap="butt"/>
<rect x="258.8" y="219.60" width="14.7" height="2.1" fill="#000"/>
<polyline points="284.73,215.10 289.57,229.95 284.73,244.80" fill="none" stroke="#000" stroke-width="2.6" stroke-linejoin="miter" stroke-linecap="butt"/>
<polygon points="298.75,236.07 302.19,236.07 302.19,238.87 299.52,244.07 297.42,244.07 298.75,238.87" fill="#000"/>
<text font-family="'Liberation Sans', sans-serif" font-size="34.60" transform="translate(314.68 240.33) scale(0.9667 1.0097)" fill="#000">c</text>
<text font-family="'Liberation Sans', sans-serif" font-size="34.60" transform="translate(333.32 240.33) scale(0.8663 1.0097)" fill="#000">a</text>
<text font-family="'Liberation Sans', sans-serif" font-size="34.60" transform="translate(353.65 240.20) scale(1.0387 1.0027)" fill="#000">n</text>
<text font-family="'Liberation Sans', sans-serif" font-size="34.60" transform="translate(374.56 240.33) scale(0.9667 1.0097)" fill="#000">c</text>
<text font-family="'Liberation Sans', sans-serif" font-size="34.60" transform="translate(392.78 240.33) scale(1.0406 1.0097)" fill="#000">e</text>
<text font-family="'Liberation Sans', sans-serif" font-size="34.60" transform="translate(413.82 240.20) scale(0.9848 1.0101)" fill="#000">l</text>
<polyline points="176.77,269.00 171.73,283.85 176.77,298.70" fill="none" stroke="#000" stroke-width="2.6" stroke-linejoin="miter" stroke-linecap="butt"/>
<text font-family="'Liberation Sans', sans-serif" font-style="italic" font-size="34.00" transform="translate(180.55 293.97) scale(0.9833 1.0039)" fill="#000">a</text>
<polyline points="185.30,269.60 189.75,265.40 194.20,269.60" fill="none" stroke="#000" stroke-width="2.0" stroke-linejoin="miter" stroke-linecap="butt"/>
<text font-family="'Liberation Sans', sans-serif" font-size="34.00" transform="translate(200.32 282.31) scale(0.6902 0.6945)" fill="#000">†</text>
<text font-family="'Liberation Sans', sans-serif" font-style="italic" font-size="34.00" transform="translate(213.24 293.97) scale(1.0010 1.0039)" fill="#000">a</text>
<polyline points="218.30,269.60 222.75,265.40 227.20,269.60" fill="none" stroke="#000" stroke-width="2.0" stroke-linejoin="miter" stroke-linecap="butt"/>
<polyline points="237.43,269.00 242.27,283.85 237.43,298.70" fill="none" stroke="#000" stroke-width="2.6" stroke-linejoin="miter" stroke-linecap="butt"/>
<polyline points="176.87,323.10 171.73,337.95 176.87,352.80" fill="none" stroke="#000" stroke-width="2.6" stroke-linejoin="miter" stroke-linecap="butt"/>
<text font-family="'Liberation Sans', sans-serif" font-style="italic" font-size="34.00" transform="translate(180.68 348.24) scale(0.9933 1.0877)" fill="#000">σ</text>
<polyline points="190.00,325.00 194.40,319.50 198.80,325.00" fill="none" stroke="#000" stroke-width="2.0" stroke-linejoin="miter" stroke-linecap="butt"/>
<text font-family="'Liberation Sans', sans-serif" font-size="34.00" transform="translate(206.19 337.24) scale(0.9081 0.8837)" fill="#000">+</text>
<text font-family="'Liberation Sans', sans-serif" font-style="italic" font-size="34.00" transform="translate(230.76 348.24) scale(1.0080 1.0877)" fill="#000">σ</text>
<polyline points="240.40,325.00 244.80,319.50 249.20,325.00" fill="none" stroke="#000" stroke-width="2.0" stroke-linejoin="miter" stroke-linecap="butt"/>
<rect x="258.8" y="327.60" width="14.7" height="2.1" fill="#000"/>
<polyline points="284.73,323.10 289.57,337.95 284.73,352.80" fill="none" stroke="#000" stroke-width="2.6" stroke-linejoin="miter" stroke-linecap="butt"/>
<defs><linearGradient id="cbg" gradientUnits="userSpaceOnUse" x1="733.15" y1="0" x2="959.70" y2="0">
<stop offset="0.00000" stop-color="#000054"/><stop offset="0.02083" stop-color="#000054"/>
<stop offset="0.02083" stop-color="#000063"/><stop offset="0.04167" stop-color="#000063"/>
<stop offset="0.04167" stop-color="#000072"/><stop offset="0.06250" stop-color="#000072"/>
<stop offset="0.06250" stop-color="#000081"/><stop offset="0.08333" stop-color="#000081"/>
<stop offset="0.08333" stop-color="#00008f"/><stop offset="0.10417" stop-color="#00008f"/>
<stop offset="0.10417" stop-color="#00009e"/><stop offset="0.12500" stop-color="#00009e"/>
<stop offset="0.12500" stop-color="#0000ad"/><stop offset="0.14583" stop-color="#0000ad"/>
<stop offset="0.14583" stop-color="#0000bc"/><stop offset="0.16667" stop-color="#0000bc"/>
<stop offset="0.16667" stop-color="#0000cb"/><stop offset="0.18750" stop-color="#0000cb"/>
<stop offset="0.18750" stop-color="#0000da"/><stop offset="0.20833" stop-color="#0000da"/>
<stop offset="0.20833" stop-color="#0000e9"/><stop offset="0.22917" stop-color="#0000e9"/>
<stop offset="0.22917" stop-color="#0000f8"/><stop offset="0.25000" stop-color="#0000f8"/>
<stop offset="0.25000" stop-color="#0b0bff"/><stop offset="0.27083" stop-color="#0b0bff"/>
<stop offset="0.27083" stop-color="#2020ff"/><stop offset="0.29167" stop-color="#2020ff"/>
<stop offset="0.29167" stop-color="#3535ff"/><stop offset="0.31250" stop-color="#3535ff"/>
<stop offset="0.31250" stop-color="#4a4aff"/><stop offset="0.33333" stop-color="#4a4aff"/>
<stop offset="0.33333" stop-color="#6060ff"/><stop offset="0.35417" stop-color="#6060ff"/>
<stop offset="0.35417" stop-color="#7575ff"/><stop offset="0.37500" stop-color="#7575ff"/>
<stop offset="0.37500" stop-color="#8a8aff"/><stop offset="0.39583" stop-color="#8a8aff"/>
<stop offset="0.39583" stop-color="#9f9fff"/><stop offset="0.41667" stop-color="#9f9fff"/>
<stop offset="0.41667" stop-color="#b5b5ff"/><stop offset="0.43750" stop-color="#b5b5ff"/>
<stop offset="0.43750" stop-color="#cacaff"/><stop offset="0.45833" stop-color="#cacaff"/>
<stop offset="0.45833" stop-color="#dfdfff"/><stop offset="0.47917" stop-color="#dfdfff"/>
<stop offset="0.47917" stop-color="#f4f4ff"/><stop offset="0.50000" stop-color="#f4f4ff"/>
<stop offset="0.50000" stop-color="#fff4f4"/><stop offset="0.52083" stop-color="#fff4f4"/>
<stop offset="0.52083" stop-color="#ffdfdf"/><stop offset="0.54167" stop-color="#ffdfdf"/>
<stop offset="0.54167" stop-color="#ffcaca"/><stop offset="0.56250" stop-color="#ffcaca"/>
<stop offset="0.56250" stop-color="#ffb5b5"/><stop offset="0.58333" stop-color="#ffb5b5"/>
<stop offset="0.58333" stop-color="#ff9f9f"/><stop offset="0.60417" stop-color="#ff9f9f"/>
<stop offset="0.60417" stop-color="#ff8a8a"/><stop offset="0.62500" stop-color="#ff8a8a"/>
<stop offset="0.62500" stop-color="#ff7575"/><stop offset="0.64583" stop-color="#ff7575"/>
<stop offset="0.64583" stop-color="#ff6060"/><stop offset="0.66667" stop-color="#ff6060"/>
<stop offset="0.66667" stop-color="#ff4a4a"/><stop offset="0.68750" stop-color="#ff4a4a"/>
<stop offset="0.68750" stop-color="#ff3535"/><stop offset="0.70833" stop-color="#ff3535"/>
<stop offset="0.70833" stop-color="#ff2020"/><stop offset="0.72917" stop-color="#ff2020"/>
<stop offset="0.72917" stop-color="#ff0b0b"/><stop offset="0.75000" stop-color="#ff0b0b"/>
<stop offset="0.75000" stop-color="#fa0000"/><stop offset="0.77083" stop-color="#fa0000"/>
<stop offset="0.77083" stop-color="#ef0000"/><stop offset="0.79167" stop-color="#ef0000"/>
<stop offset="0.79167" stop-color="#e40000"/><stop offset="0.81250" stop-color="#e40000"/>
<stop offset="0.81250" stop-color="#da0000"/><stop offset="0.83333" stop-color="#da0000"/>
<stop offset="0.83333" stop-color="#cf0000"/><stop offset="0.85417" stop-color="#cf0000"/>
<stop offset="0.85417" stop-color="#c50000"/><stop offset="0.87500" stop-color="#c50000"/>
<stop offset="0.87500" stop-color="#ba0000"/><stop offset="0.89583" stop-color="#ba0000"/>
<stop offset="0.89583" stop-color="#af0000"/><stop offset="0.91667" stop-color="#af0000"/>
<stop offset="0.91667" stop-color="#a50000"/><stop offset="0.93750" stop-color="#a50000"/>
<stop offset="0.93750" stop-color="#9a0000"/><stop offset="0.95833" stop-color="#9a0000"/>
<stop offset="0.95833" stop-color="#8f0000"/><stop offset="0.97917" stop-color="#8f0000"/>
<stop offset="0.97917" stop-color="#850000"/><stop offset="1.00000" stop-color="#850000"/>
</linearGradient></defs>
<rect x="733.15" y="74.1" width="226.55" height="19.1" fill="url(#cbg)"/>
<rect x="734.9" y="77.7" width="223.05" height="21.6" fill="none" stroke="#000" stroke-width="3.5"/>
<line x1="758.75" y1="61.0" x2="758.75" y2="77.7" stroke="#000" stroke-width="3.5"/>
<line x1="846.30" y1="61.0" x2="846.30" y2="77.7" stroke="#000" stroke-width="3.5"/>
<line x1="933.85" y1="61.0" x2="933.85" y2="77.7" stroke="#000" stroke-width="3.5"/>
<text font-family="'Liberation Sans', sans-serif" font-size="34.60" transform="translate(716.30 58.94) scale(1.0385 0.9875)" fill="#000">-</text>
<text font-family="'Liberation Sans', sans-serif" font-size="34.60" transform="translate(729.12 59.12) scale(1.0155 1.0292)" fill="#000">0</text>
<text font-family="'Liberation Sans', sans-serif" font-size="34.60" transform="translate(749.78 59.00) scale(1.0424 1.1173)" fill="#000">.</text>
<text font-family="'Liberation Sans', sans-serif" font-size="34.60" transform="translate(760.84 59.00) scale(0.9789 1.0240)" fill="#000">2</text>
<text font-family="'Liberation Sans', sans-serif" font-size="34.60" transform="translate(782.55 59.13) scale(0.9584 1.0261)" fill="#000">5</text>
<text font-family="'Liberation Sans', sans-serif" font-size="34.60" transform="translate(835.98 59.12) scale(1.0155 1.0292)" fill="#000">0</text>
<text font-family="'Liberation Sans', sans-serif" font-size="34.60" transform="translate(891.40 58.94) scale(1.0385 0.9875)" fill="#000">-</text>
<text font-family="'Liberation Sans', sans-serif" font-size="34.60" transform="translate(904.22 59.12) scale(1.0155 1.0292)" fill="#000">0</text>
<text font-family="'Liberation Sans', sans-serif" font-size="34.60" transform="translate(924.88 59.00) scale(1.0424 1.1173)" fill="#000">.</text>
<text font-family="'Liberation Sans', sans-serif" font-size="34.60" transform="translate(935.94 59.00) scale(0.9789 1.0240)" fill="#000">2</text>
<text font-family="'Liberation Sans', sans-serif" font-size="34.60" transform="translate(957.65 59.13) scale(0.9584 1.0261)" fill="#000">5</text>
<text font-family="'Liberation Sans', sans-serif" font-style="italic" font-size="34.00" transform="translate(808.23 28.00) scale(0.9426 1.0260)" fill="#000">W</text>
<text font-family="'Liberation Sans', sans-serif" font-size="34.00" transform="translate(840.42 27.50) scale(0.9945 0.9945)" fill="#000">(</text>
<text font-family="'Liberation Sans', sans-serif" font-style="italic" font-size="34.00" transform="translate(851.81 28.14) scale(1.0249 1.0200)" fill="#000">α</text>
<text font-family="'Liberation Sans', sans-serif" font-size="34.00" transform="translate(876.07 27.50) scale(0.9945 0.9945)" fill="#000">)</text>
<defs>
<radialGradient id="w0" gradientUnits="userSpaceOnUse" cx="846.60" cy="185.40" r="81.77">
<stop offset="0.0000" stop-color="#0000ba"/>
<stop offset="0.0111" stop-color="#0000bb"/>
<stop offset="0.0222" stop-color="#0000c0"/>
<stop offset="0.0333" stop-color="#0000c7"/>
<stop offset="0.0444" stop-color="#0000d0"/>
<stop offset="0.0556" stop-color="#0000dc"/>
<stop offset="0.0667" stop-color="#0000eb"/>
<stop offset="0.0778" stop-color="#0000fb"/>
<stop offset="0.0889" stop-color="#1414ff"/>
<stop offset="0.1000" stop-color="#3030ff"/>
<stop offset="0.1111" stop-color="#4e4eff"/>
<stop offset="0.1222" stop-color="#6d6dff"/>
<stop offset="0.1333" stop-color="#8c8cff"/>
<stop offset="0.1444" stop-color="#acacff"/>
<stop offset="0.1556" stop-color="#ccccff"/>
<stop offset="0.1667" stop-color="#ebebff"/>
<stop offset="0.1778" stop-color="#fff5f5"/>
<stop offset="0.1889" stop-color="#ffd8d8"/>
<stop offset="0.2000" stop-color="#ffbdbd"/>
<stop offset="0.2111" stop-color="#ffa4a4"/>
<stop offset="0.2222" stop-color="#ff8d8d"/>
<stop offset="0.2333" stop-color="#ff7878"/>
<stop offset="0.2444" stop-color="#ff6666"/>
<stop offset="0.2556" stop-color="#ff5656"/>
<stop offset="0.2667" stop-color="#ff4949"/>
<stop offset="0.2778" stop-color="#ff3e3e"/>
<stop offset="0.2889" stop-color="#ff3636"/>
<stop offset="0.3000" stop-color="#ff3030"/>
<stop offset="0.3111" stop-color="#ff2d2d"/>
<stop offset="0.3222" stop-color="#ff2c2c"/>
<stop offset="0.3333" stop-color="#ff2d2d"/>
<stop offset="0.3444" stop-color="#ff3030"/>
<stop offset="0.3556" stop-color="#ff3434"/>
<stop offset="0.3667" stop-color="#ff3939"/>
<stop offset="0.3778" stop-color="#ff4040"/>
<stop offset="0.3889" stop-color="#ff4848"/>
<stop offset="0.4000" stop-color="#ff5151"/>
<stop offset="0.4111" stop-color="#ff5a5a"/>
<stop offset="0.4222" stop-color="#ff6464"/>
<stop offset="0.4333" stop-color="#ff6e6e"/>
<stop offset="0.4444" stop-color="#ff7878"/>
<stop offset="0.4556" stop-color="#ff8282"/>
<stop offset="0.4667" stop-color="#ff8c8c"/>
<stop offset="0.4778" stop-color="#ff9595"/>
<stop offset="0.4889" stop-color="#ff9f9f"/>
<stop offset="0.5000" stop-color="#ffa8a8"/>
<stop offset="0.5111" stop-color="#ffb0b0"/>
<stop offset="0.5222" stop-color="#ffb8b8"/>
<stop offset="0.5333" stop-color="#ffc0c0"/>
<stop offset="0.5444" stop-color="#ffc7c7"/>
<stop offset="0.5556" stop-color="#ffcdcd"/>
<stop offset="0.5667" stop-color="#ffd3d3"/>
<stop offset="0.5778" stop-color="#ffd8d8"/>
<stop offset="0.5889" stop-color="#ffdddd"/>
<stop offset="0.6000" stop-color="#ffe1e1"/>
<stop offset="0.6111" stop-color="#ffe5e5"/>
<stop offset="0.6222" stop-color="#ffe9e9"/>
<stop offset="0.6333" stop-color="#ffecec"/>
<stop offset="0.6444" stop-color="#ffefef"/>
<stop offset="0.6556" stop-color="#fff1f1"/>
<stop offset="0.6667" stop-color="#fff3f3"/>
<stop offset="0.6778" stop-color="#fff5f5"/>
<stop offset="0.6889" stop-color="#fff7f7"/>
<stop offset="0.7000" stop-color="#fff8f8"/>
<stop offset="0.7019" stop-color="#fff8f8"/>
<stop offset="0.7024" stop-color="#fefdfe"/>
</radialGradient>
<radialGradient id="w1" gradientUnits="userSpaceOnUse" cx="846.60" cy="423.10" r="81.77">
<stop offset="0.0000" stop-color="#800000"/>
<stop offset="0.0111" stop-color="#800000"/>
<stop offset="0.0222" stop-color="#810000"/>
<stop offset="0.0333" stop-color="#830000"/>
<stop offset="0.0444" stop-color="#860000"/>
<stop offset="0.0556" stop-color="#8a0000"/>
<stop offset="0.0667" stop-color="#8e0000"/>
<stop offset="0.0778" stop-color="#940000"/>
<stop offset="0.0889" stop-color="#990000"/>
<stop offset="0.1000" stop-color="#a00000"/>
<stop offset="0.1111" stop-color="#a70000"/>
<stop offset="0.1222" stop-color="#ae0000"/>
<stop offset="0.1333" stop-color="#b60000"/>
<stop offset="0.1444" stop-color="#be0000"/>
<stop offset="0.1556" stop-color="#c70000"/>
<stop offset="0.1667" stop-color="#cf0000"/>
<stop offset="0.1778" stop-color="#d80000"/>
<stop offset="0.1889" stop-color="#e10000"/>
<stop offset="0.2000" stop-color="#ea0000"/>
<stop offset="0.2111" stop-color="#f30000"/>
<stop offset="0.2222" stop-color="#fc0000"/>
<stop offset="0.2333" stop-color="#ff0b0b"/>
<stop offset="0.2444" stop-color="#ff1c1c"/>
<stop offset="0.2556" stop-color="#ff2c2c"/>
<stop offset="0.2667" stop-color="#ff3c3c"/>
<stop offset="0.2778" stop-color="#ff4b4b"/>
<stop offset="0.2889" stop-color="#ff5a5a"/>
<stop offset="0.3000" stop-color="#ff6868"/>
<stop offset="0.3111" stop-color="#ff7575"/>
<stop offset="0.3222" stop-color="#ff8282"/>
<stop offset="0.3333" stop-color="#ff8d8d"/>
<stop offset="0.3444" stop-color="#ff9898"/>
<stop offset="0.3556" stop-color="#ffa3a3"/>
<stop offset="0.3667" stop-color="#ffacac"/>
<stop offset="0.3778" stop-color="#ffb5b5"/>
<stop offset="0.3889" stop-color="#ffbdbd"/>
<stop offset="0.4000" stop-color="#ffc4c4"/>
<stop offset="0.4111" stop-color="#ffcbcb"/>
<stop offset="0.4222" stop-color="#ffd1d1"/>
<stop offset="0.4333" stop-color="#ffd7d7"/>
<stop offset="0.4444" stop-color="#ffdcdc"/>
<stop offset="0.4556" stop-color="#ffe0e0"/>
<stop offset="0.4667" stop-color="#ffe4e4"/>
<stop offset="0.4778" stop-color="#ffe8e8"/>
<stop offset="0.4889" stop-color="#ffebeb"/>
<stop offset="0.5000" stop-color="#ffeeee"/>
<stop offset="0.5111" stop-color="#fff0f0"/>
<stop offset="0.5222" stop-color="#fff2f2"/>
<stop offset="0.5333" stop-color="#fff4f4"/>
<stop offset="0.5444" stop-color="#fff6f6"/>
<stop offset="0.5556" stop-color="#fff7f7"/>
<stop offset="0.5641" stop-color="#fff8f8"/>
<stop offset="0.5646" stop-color="#fefdfe"/>
</radialGradient>
</defs>
<rect x="734.9" y="107.0" width="223.05" height="219.50" fill="url(#w0)"/>
<line x1="767.22" y1="326.5" x2="767.22" y2="309.90" stroke="#000" stroke-width="3.5"/>
<line x1="734.9" y1="295.12" x2="751.50" y2="295.12" stroke="#000" stroke-width="3.5"/>
<text font-family="'Liberation Sans', sans-serif" font-size="34.60" transform="translate(651.37 310.38) scale(1.2413 1.1217)" fill="#000">−</text>
<text font-family="'Liberation Sans', sans-serif" font-size="34.60" transform="translate(678.63 307.93) scale(0.9789 1.0240)" fill="#000">2</text>
<text font-family="'Liberation Sans', sans-serif" font-size="34.60" transform="translate(699.37 307.93) scale(1.0424 1.1173)" fill="#000">.</text>
<text font-family="'Liberation Sans', sans-serif" font-size="34.60" transform="translate(710.94 308.05) scale(0.9584 1.0261)" fill="#000">5</text>
<line x1="846.22" y1="326.5" x2="846.22" y2="309.90" stroke="#000" stroke-width="3.5"/>
<line x1="734.9" y1="216.75" x2="751.50" y2="216.75" stroke="#000" stroke-width="3.5"/>
<text font-family="'Liberation Sans', sans-serif" font-size="34.60" transform="translate(678.71 229.67) scale(1.0155 1.0292)" fill="#000">0</text>
<text font-family="'Liberation Sans', sans-serif" font-size="34.60" transform="translate(699.37 229.55) scale(1.0424 1.1173)" fill="#000">.</text>
<text font-family="'Liberation Sans', sans-serif" font-size="34.60" transform="translate(710.52 229.67) scale(1.0155 1.0292)" fill="#000">0</text>
<line x1="925.22" y1="326.5" x2="925.22" y2="309.90" stroke="#000" stroke-width="3.5"/>
<line x1="734.9" y1="138.38" x2="751.50" y2="138.38" stroke="#000" stroke-width="3.5"/>
<text font-family="'Liberation Sans', sans-serif" font-size="34.60" transform="translate(678.63 151.18) scale(0.9789 1.0240)" fill="#000">2</text>
<text font-family="'Liberation Sans', sans-serif" font-size="34.60" transform="translate(699.37 151.18) scale(1.0424 1.1173)" fill="#000">.</text>
<text font-family="'Liberation Sans', sans-serif" font-size="34.60" transform="translate(710.94 151.30) scale(0.9584 1.0261)" fill="#000">5</text>
<rect x="734.9" y="107.0" width="223.05" height="219.50" fill="none" stroke="#000" stroke-width="3.5"/>
<g transform="rotate(-90)">
<text font-family="'Liberation Serif', serif" font-size="34.00" transform="translate(-260.04 989.00) scale(1.0901 1.0196)" fill="#000">I</text>
<text font-family="'Liberation Serif', serif" font-size="34.00" transform="translate(-247.94 989.00) scale(0.9008 1.0299)" fill="#000">m</text>
<polygon points="-218.00,965.89 -211.10,965.89 -211.10,968.22 -215.01,968.22 -215.01,993.28 -211.10,993.28 -211.10,995.61 -218.00,995.61" fill="#000"/>
<text font-family="'Liberation Sans', sans-serif" font-style="italic" font-size="34.00" transform="translate(-206.41 990.44) scale(0.8725 1.0308)" fill="#000">α</text>
<polygon points="-176.20,965.89 -176.20,995.61 -183.10,995.61 -183.10,993.28 -179.21,993.28 -179.21,968.22 -183.10,968.22 -183.10,965.89" fill="#000"/>
</g>
<rect x="734.9" y="333.9" width="223.05" height="219.20" fill="url(#w1)"/>
<line x1="767.22" y1="553.1" x2="767.22" y2="536.50" stroke="#000" stroke-width="3.5"/>
<line x1="734.9" y1="521.88" x2="751.50" y2="521.88" stroke="#000" stroke-width="3.5"/>
<text font-family="'Liberation Sans', sans-serif" font-size="34.60" transform="translate(651.37 537.13) scale(1.2413 1.1217)" fill="#000">−</text>
<text font-family="'Liberation Sans', sans-serif" font-size="34.60" transform="translate(678.63 534.67) scale(0.9789 1.0240)" fill="#000">2</text>
<text font-family="'Liberation Sans', sans-serif" font-size="34.60" transform="translate(699.37 534.67) scale(1.0424 1.1173)" fill="#000">.</text>
<text font-family="'Liberation Sans', sans-serif" font-size="34.60" transform="translate(710.94 534.80) scale(0.9584 1.0261)" fill="#000">5</text>
<line x1="846.22" y1="553.1" x2="846.22" y2="536.50" stroke="#000" stroke-width="3.5"/>
<line x1="734.9" y1="443.50" x2="751.50" y2="443.50" stroke="#000" stroke-width="3.5"/>
<text font-family="'Liberation Sans', sans-serif" font-size="34.60" transform="translate(678.71 456.42) scale(1.0155 1.0292)" fill="#000">0</text>
<text font-family="'Liberation Sans', sans-serif" font-size="34.60" transform="translate(699.37 456.30) scale(1.0424 1.1173)" fill="#000">.</text>
<text font-family="'Liberation Sans', sans-serif" font-size="34.60" transform="translate(710.52 456.42) scale(1.0155 1.0292)" fill="#000">0</text>
<line x1="925.22" y1="553.1" x2="925.22" y2="536.50" stroke="#000" stroke-width="3.5"/>
<line x1="734.9" y1="365.12" x2="751.50" y2="365.12" stroke="#000" stroke-width="3.5"/>
<text font-family="'Liberation Sans', sans-serif" font-size="34.60" transform="translate(678.63 377.93) scale(0.9789 1.0240)" fill="#000">2</text>
<text font-family="'Liberation Sans', sans-serif" font-size="34.60" transform="translate(699.37 377.93) scale(1.0424 1.1173)" fill="#000">.</text>
<text font-family="'Liberation Sans', sans-serif" font-size="34.60" transform="translate(710.94 378.05) scale(0.9584 1.0261)" fill="#000">5</text>
<rect x="734.9" y="333.9" width="223.05" height="219.20" fill="none" stroke="#000" stroke-width="3.5"/>
<g transform="rotate(-90)">
<text font-family="'Liberation Serif', serif" font-size="34.00" transform="translate(-486.94 989.00) scale(1.0901 1.0196)" fill="#000">I</text>
<text font-family="'Liberation Serif', serif" font-size="34.00" transform="translate(-474.84 989.00) scale(0.9008 1.0299)" fill="#000">m</text>
<polygon points="-444.90,965.89 -438.00,965.89 -438.00,968.22 -441.91,968.22 -441.91,993.28 -438.00,993.28 -438.00,995.61 -444.90,995.61" fill="#000"/>
<text font-family="'Liberation Sans', sans-serif" font-style="italic" font-size="34.00" transform="translate(-433.31 990.44) scale(0.8725 1.0308)" fill="#000">α</text>
<polygon points="-403.10,965.89 -403.10,995.61 -410.00,995.61 -410.00,993.28 -406.11,993.28 -406.11,968.22 -410.00,968.22 -410.00,965.89" fill="#000"/>
</g>
<polygon points="767.60,129.90 765.44,136.53 758.47,136.53 764.11,140.63 761.96,147.27 767.60,143.17 773.24,147.27 771.09,140.63 776.73,136.53 769.76,136.53" fill="#000" stroke="#000" stroke-width="4.9" stroke-linejoin="bevel"/>
<circle cx="767.4" cy="366.25" r="11.8" fill="#000"/>
<text font-family="'Liberation Sans', sans-serif" font-size="34.60" transform="translate(728.17 591.36) scale(1.2413 1.1217)" fill="#000">−</text>
<text font-family="'Liberation Sans', sans-serif" font-size="34.60" transform="translate(755.42 588.90) scale(0.9789 1.0240)" fill="#000">2</text>
<text font-family="'Liberation Sans', sans-serif" font-size="34.60" transform="translate(776.16 588.90) scale(1.0424 1.1173)" fill="#000">.</text>
<text font-family="'Liberation Sans', sans-serif" font-size="34.60" transform="translate(787.73 589.03) scale(0.9584 1.0261)" fill="#000">5</text>
<text font-family="'Liberation Sans', sans-serif" font-size="34.60" transform="translate(820.54 589.02) scale(1.0155 1.0292)" fill="#000">0</text>
<text font-family="'Liberation Sans', sans-serif" font-size="34.60" transform="translate(841.20 588.90) scale(1.0424 1.1173)" fill="#000">.</text>
<text font-family="'Liberation Sans', sans-serif" font-size="34.60" transform="translate(852.35 589.02) scale(1.0155 1.0292)" fill="#000">0</text>
<text font-family="'Liberation Sans', sans-serif" font-size="34.60" transform="translate(899.46 588.90) scale(0.9789 1.0240)" fill="#000">2</text>
<text font-family="'Liberation Sans', sans-serif" font-size="34.60" transform="translate(920.20 588.90) scale(1.0424 1.1173)" fill="#000">.</text>
<text font-family="'Liberation Sans', sans-serif" font-size="34.60" transform="translate(931.77 589.03) scale(0.9584 1.0261)" fill="#000">5</text>
<text font-family="'Liberation Sans', sans-serif" font-size="34.60" transform="translate(799.38 617.80) scale(0.9214 1.0208)" fill="#000">R</text>
<text font-family="'Liberation Sans', sans-serif" font-size="34.60" transform="translate(822.20 617.93) scale(1.0406 1.0097)" fill="#000">e</text>
<polygon points="846.80,593.64 853.70,593.64 853.70,595.97 849.79,595.97 849.79,621.03 853.70,621.03 853.70,623.36 846.80,623.36" fill="#000"/>
<text font-family="'Liberation Sans', sans-serif" font-style="italic" font-size="34.00" transform="translate(855.31 618.14) scale(1.0249 1.0469)" fill="#000">α</text>
<polygon points="886.70,593.64 886.70,623.36 879.80,623.36 879.80,621.03 883.69,621.03 883.69,595.97 879.80,595.97 879.80,593.64" fill="#000"/>
</svg></body></html>
